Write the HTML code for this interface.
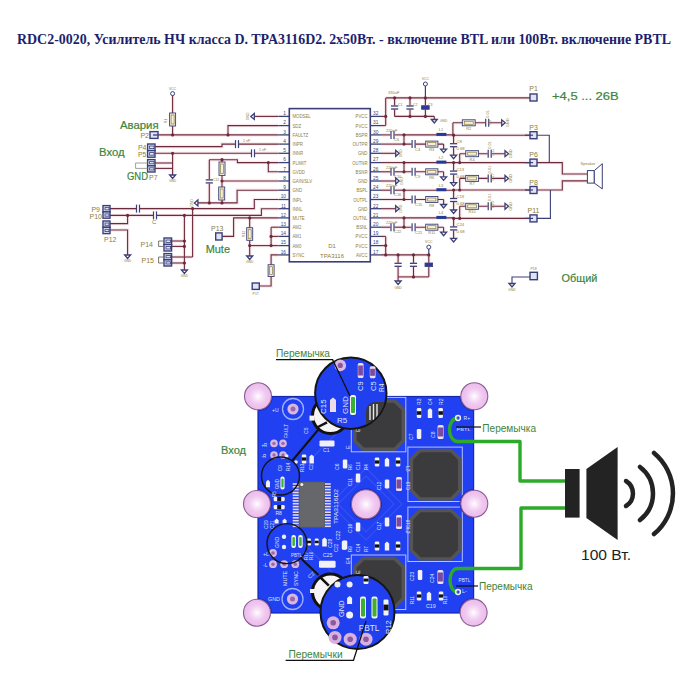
<!DOCTYPE html><html><head><meta charset="utf-8"><style>html,body{margin:0;padding:0;background:#fff;}svg{display:block;}</style></head><body>
<svg width="700" height="700" viewBox="0 0 700 700" font-family="Liberation Sans">
<defs><radialGradient id="hg"><stop offset="0" stop-color="#ffffff"/><stop offset="0.28" stop-color="#f8e2f8"/><stop offset="0.6" stop-color="#f0c8f0"/><stop offset="1" stop-color="#eabcea"/></radialGradient><clipPath id="board"><rect x="258" y="396.5" width="215.6" height="216.5"/></clipPath><clipPath id="mag1"><circle cx="350.8" cy="393.3" r="35"/></clipPath></defs>
<rect width="700" height="700" fill="#fff"/>
<g fill="none" stroke="#f8e9ed" stroke-width="3.5"><line x1="254.3" y1="116.4" x2="278.5" y2="116.4"/><polyline points="228.0,134.9 228.0,125.6 278.5,125.6"/><line x1="158.0" y1="134.9" x2="278.5" y2="134.9"/><line x1="172.6" y1="95.6" x2="172.6" y2="134.9"/><polyline points="155.0,146.6 222.0,146.6 222.0,144.1 278.5,144.1"/><line x1="155.0" y1="153.3" x2="278.5" y2="153.3"/><line x1="172.6" y1="153.3" x2="172.6" y2="175.0"/><line x1="155.0" y1="163.0" x2="172.6" y2="163.0"/><line x1="155.0" y1="168.4" x2="172.6" y2="168.4"/><polyline points="209.3,159.7 237.4,159.7 237.4,162.6 278.5,162.6"/><polyline points="268.3,162.6 268.3,171.8 278.5,171.8"/><line x1="222.0" y1="159.7" x2="222.0" y2="202.9"/><line x1="222.0" y1="181.0" x2="278.5" y2="181.0"/><line x1="209.3" y1="159.7" x2="209.3" y2="202.9"/><polyline points="197.9,202.9 237.1,202.9 237.1,190.2 278.5,190.2"/><polyline points="110.0,208.6 254.3,208.6 254.3,199.5 278.5,199.5"/><polyline points="110.0,215.4 261.4,215.4 261.4,208.7 278.5,208.7"/><polyline points="127.6,215.4 127.6,223.6 110.0,223.6"/><polyline points="110.0,230.0 127.6,230.0 127.6,255.0"/><line x1="192.6" y1="208.6" x2="192.6" y2="257.0"/><line x1="184.4" y1="215.4" x2="184.4" y2="270.0"/><line x1="171.6" y1="241.0" x2="184.4" y2="241.0"/><line x1="171.6" y1="246.4" x2="184.4" y2="246.4"/><line x1="171.6" y1="257.0" x2="192.6" y2="257.0"/><line x1="171.6" y1="263.0" x2="184.4" y2="263.0"/><polyline points="222.1,236.4 233.6,236.4 233.6,217.9 278.5,217.9"/><line x1="249.7" y1="217.9" x2="249.7" y2="256.0"/><line x1="249.7" y1="245.6" x2="278.5" y2="245.6"/><line x1="271.1" y1="227.2" x2="271.1" y2="245.6"/><line x1="271.1" y1="227.2" x2="278.5" y2="227.2"/><line x1="271.1" y1="236.4" x2="278.5" y2="236.4"/><polyline points="278.5,254.9 271.1,254.9 271.1,286.0 259.3,286.0"/><line x1="381.0" y1="116.4" x2="385.7" y2="116.4"/><line x1="381.0" y1="125.6" x2="385.7" y2="125.6"/><line x1="385.7" y1="97.9" x2="385.7" y2="125.6"/><line x1="385.7" y1="97.9" x2="530.0" y2="97.9"/><line x1="394.6" y1="97.9" x2="394.6" y2="116.4"/><line x1="410.0" y1="97.9" x2="410.0" y2="116.4"/><line x1="425.4" y1="97.9" x2="425.4" y2="116.4"/><line x1="394.6" y1="116.4" x2="434.3" y2="116.4"/><line x1="434.3" y1="116.4" x2="434.3" y2="119.5"/><line x1="381.0" y1="134.9" x2="404.0" y2="134.9"/><line x1="381.0" y1="144.1" x2="404.0" y2="144.1"/><line x1="404.0" y1="134.9" x2="404.0" y2="144.1"/><line x1="404.0" y1="144.1" x2="443.6" y2="144.1"/><line x1="443.6" y1="144.1" x2="443.6" y2="149.1"/><polyline points="404.0,134.9 453.6,134.9 453.6,135.2 530.0,135.2"/><line x1="453.6" y1="135.2" x2="453.6" y2="155.2"/><line x1="452.9" y1="122.8" x2="452.9" y2="135.2"/><line x1="452.9" y1="122.8" x2="501.7" y2="122.8"/><line x1="381.0" y1="153.3" x2="395.7" y2="153.3"/><line x1="381.0" y1="162.6" x2="404.0" y2="162.6"/><line x1="381.0" y1="171.8" x2="404.0" y2="171.8"/><line x1="404.0" y1="162.6" x2="404.0" y2="171.8"/><line x1="404.0" y1="171.8" x2="443.6" y2="171.8"/><line x1="443.6" y1="171.8" x2="443.6" y2="176.8"/><polyline points="404.0,162.6 453.6,162.6 453.6,162.6 530.0,162.6"/><line x1="453.6" y1="162.6" x2="453.6" y2="182.6"/><line x1="459.7" y1="153.7" x2="459.7" y2="162.6"/><line x1="459.7" y1="153.7" x2="505.0" y2="153.7"/><line x1="381.0" y1="181.0" x2="395.7" y2="181.0"/><line x1="381.0" y1="190.2" x2="404.0" y2="190.2"/><line x1="381.0" y1="199.5" x2="404.0" y2="199.5"/><line x1="404.0" y1="190.2" x2="404.0" y2="199.5"/><line x1="404.0" y1="199.5" x2="443.6" y2="199.5"/><line x1="443.6" y1="199.5" x2="443.6" y2="204.5"/><polyline points="404.0,190.2 453.6,190.2 453.6,190.0 530.0,190.0"/><line x1="453.6" y1="190.0" x2="453.6" y2="210.0"/><line x1="459.7" y1="178.4" x2="459.7" y2="190.0"/><line x1="459.7" y1="178.4" x2="505.0" y2="178.4"/><line x1="381.0" y1="208.7" x2="395.7" y2="208.7"/><line x1="381.0" y1="217.9" x2="404.0" y2="217.9"/><line x1="381.0" y1="227.2" x2="404.0" y2="227.2"/><line x1="404.0" y1="217.9" x2="404.0" y2="227.2"/><line x1="404.0" y1="227.2" x2="443.6" y2="227.2"/><line x1="443.6" y1="227.2" x2="443.6" y2="232.2"/><polyline points="404.0,217.9 453.6,217.9 453.6,218.4 530.0,218.4"/><line x1="453.6" y1="218.4" x2="453.6" y2="238.4"/><line x1="459.7" y1="206.3" x2="459.7" y2="218.4"/><line x1="459.7" y1="206.3" x2="505.0" y2="206.3"/><line x1="381.0" y1="236.4" x2="385.7" y2="236.4"/><line x1="381.0" y1="245.6" x2="385.7" y2="245.6"/><line x1="385.7" y1="236.4" x2="385.7" y2="254.9"/><line x1="381.0" y1="254.9" x2="428.8" y2="254.9"/><line x1="398.1" y1="254.9" x2="398.1" y2="276.9"/><line x1="413.5" y1="254.9" x2="413.5" y2="276.9"/><line x1="428.8" y1="254.9" x2="428.8" y2="276.9"/><line x1="398.1" y1="276.9" x2="428.8" y2="276.9"/><line x1="398.1" y1="276.9" x2="398.1" y2="281.0"/><polyline points="537.0,162.6 562.3,162.6 562.3,174.0 587.4,174.0"/><polyline points="537.0,190.0 562.3,190.0 562.3,180.9 587.4,180.9"/></g>
<text x="17" y="43.5" font-family="Liberation Serif" font-weight="bold" font-size="14" fill="#1d1f6e" textLength="654" lengthAdjust="spacingAndGlyphs">RDC2-0020, Усилитель НЧ класса D. TPA3116D2. 2x50Вт. - включение BTL или 100Вт. включение PBTL</text>
<rect x="289.3" y="108.6" width="81" height="153.2" fill="#fff" stroke="#3a3f78" stroke-width="1.6"/>
<line x1="278.5" y1="116.4" x2="289.3" y2="116.4" stroke="#3a3f78" stroke-width="1.3"/>
<text x="286.0" y="115.2" font-size="4.8" fill="#3a3f78" text-anchor="end" font-weight="normal" font-family="Liberation Sans">1</text>
<text x="292.5" y="118.4" font-size="5.4" fill="#8c7d3c" text-anchor="start" font-weight="normal" font-family="Liberation Sans" textLength="18.2" lengthAdjust="spacingAndGlyphs">MODSEL</text>
<line x1="278.5" y1="125.6" x2="289.3" y2="125.6" stroke="#3a3f78" stroke-width="1.3"/>
<text x="286.0" y="124.4" font-size="4.8" fill="#3a3f78" text-anchor="end" font-weight="normal" font-family="Liberation Sans">2</text>
<text x="292.5" y="127.6" font-size="5.4" fill="#8c7d3c" text-anchor="start" font-weight="normal" font-family="Liberation Sans" textLength="8.6" lengthAdjust="spacingAndGlyphs">SDZ</text>
<line x1="278.5" y1="134.9" x2="289.3" y2="134.9" stroke="#3a3f78" stroke-width="1.3"/>
<text x="286.0" y="133.7" font-size="4.8" fill="#3a3f78" text-anchor="end" font-weight="normal" font-family="Liberation Sans">3</text>
<text x="292.5" y="136.9" font-size="5.4" fill="#8c7d3c" text-anchor="start" font-weight="normal" font-family="Liberation Sans" textLength="15.7" lengthAdjust="spacingAndGlyphs">FAULTZ</text>
<line x1="278.5" y1="144.1" x2="289.3" y2="144.1" stroke="#3a3f78" stroke-width="1.3"/>
<text x="286.0" y="142.9" font-size="4.8" fill="#3a3f78" text-anchor="end" font-weight="normal" font-family="Liberation Sans">4</text>
<text x="292.5" y="146.1" font-size="5.4" fill="#8c7d3c" text-anchor="start" font-weight="normal" font-family="Liberation Sans" textLength="10.3" lengthAdjust="spacingAndGlyphs">INPR</text>
<line x1="278.5" y1="153.3" x2="289.3" y2="153.3" stroke="#3a3f78" stroke-width="1.3"/>
<text x="286.0" y="152.1" font-size="4.8" fill="#3a3f78" text-anchor="end" font-weight="normal" font-family="Liberation Sans">5</text>
<text x="292.5" y="155.3" font-size="5.4" fill="#8c7d3c" text-anchor="start" font-weight="normal" font-family="Liberation Sans" textLength="10.5" lengthAdjust="spacingAndGlyphs">INNR</text>
<line x1="278.5" y1="162.6" x2="289.3" y2="162.6" stroke="#3a3f78" stroke-width="1.3"/>
<text x="286.0" y="161.4" font-size="4.8" fill="#3a3f78" text-anchor="end" font-weight="normal" font-family="Liberation Sans">6</text>
<text x="292.5" y="164.6" font-size="5.4" fill="#8c7d3c" text-anchor="start" font-weight="normal" font-family="Liberation Sans" textLength="13.9" lengthAdjust="spacingAndGlyphs">PLIMIT</text>
<line x1="278.5" y1="171.8" x2="289.3" y2="171.8" stroke="#3a3f78" stroke-width="1.3"/>
<text x="286.0" y="170.6" font-size="4.8" fill="#3a3f78" text-anchor="end" font-weight="normal" font-family="Liberation Sans">7</text>
<text x="292.5" y="173.8" font-size="5.4" fill="#8c7d3c" text-anchor="start" font-weight="normal" font-family="Liberation Sans" textLength="12.4" lengthAdjust="spacingAndGlyphs">GVDD</text>
<line x1="278.5" y1="181.0" x2="289.3" y2="181.0" stroke="#3a3f78" stroke-width="1.3"/>
<text x="286.0" y="179.8" font-size="4.8" fill="#3a3f78" text-anchor="end" font-weight="normal" font-family="Liberation Sans">8</text>
<text x="292.5" y="183.0" font-size="5.4" fill="#8c7d3c" text-anchor="start" font-weight="normal" font-family="Liberation Sans" textLength="19.5" lengthAdjust="spacingAndGlyphs">GAIN/SLV</text>
<line x1="278.5" y1="190.2" x2="289.3" y2="190.2" stroke="#3a3f78" stroke-width="1.3"/>
<text x="286.0" y="189.0" font-size="4.8" fill="#3a3f78" text-anchor="end" font-weight="normal" font-family="Liberation Sans">9</text>
<text x="292.5" y="192.2" font-size="5.4" fill="#8c7d3c" text-anchor="start" font-weight="normal" font-family="Liberation Sans" textLength="9.6" lengthAdjust="spacingAndGlyphs">GND</text>
<line x1="278.5" y1="199.5" x2="289.3" y2="199.5" stroke="#3a3f78" stroke-width="1.3"/>
<text x="286.0" y="198.3" font-size="4.8" fill="#3a3f78" text-anchor="end" font-weight="normal" font-family="Liberation Sans">10</text>
<text x="292.5" y="201.5" font-size="5.4" fill="#8c7d3c" text-anchor="start" font-weight="normal" font-family="Liberation Sans" textLength="9.6" lengthAdjust="spacingAndGlyphs">INPL</text>
<line x1="278.5" y1="208.7" x2="289.3" y2="208.7" stroke="#3a3f78" stroke-width="1.3"/>
<text x="286.0" y="207.5" font-size="4.8" fill="#3a3f78" text-anchor="end" font-weight="normal" font-family="Liberation Sans">11</text>
<text x="292.5" y="210.7" font-size="5.4" fill="#8c7d3c" text-anchor="start" font-weight="normal" font-family="Liberation Sans" textLength="9.8" lengthAdjust="spacingAndGlyphs">INNL</text>
<line x1="278.5" y1="217.9" x2="289.3" y2="217.9" stroke="#3a3f78" stroke-width="1.3"/>
<text x="286.0" y="216.7" font-size="4.8" fill="#3a3f78" text-anchor="end" font-weight="normal" font-family="Liberation Sans">12</text>
<text x="292.5" y="219.9" font-size="5.4" fill="#8c7d3c" text-anchor="start" font-weight="normal" font-family="Liberation Sans" textLength="12.2" lengthAdjust="spacingAndGlyphs">MUTE</text>
<line x1="278.5" y1="227.2" x2="289.3" y2="227.2" stroke="#3a3f78" stroke-width="1.3"/>
<text x="286.0" y="226.0" font-size="4.8" fill="#3a3f78" text-anchor="end" font-weight="normal" font-family="Liberation Sans">13</text>
<text x="292.5" y="229.2" font-size="5.4" fill="#8c7d3c" text-anchor="start" font-weight="normal" font-family="Liberation Sans" textLength="8.8" lengthAdjust="spacingAndGlyphs">AM2</text>
<line x1="278.5" y1="236.4" x2="289.3" y2="236.4" stroke="#3a3f78" stroke-width="1.3"/>
<text x="286.0" y="235.2" font-size="4.8" fill="#3a3f78" text-anchor="end" font-weight="normal" font-family="Liberation Sans">14</text>
<text x="292.5" y="238.4" font-size="5.4" fill="#8c7d3c" text-anchor="start" font-weight="normal" font-family="Liberation Sans" textLength="8.8" lengthAdjust="spacingAndGlyphs">AM1</text>
<line x1="278.5" y1="245.6" x2="289.3" y2="245.6" stroke="#3a3f78" stroke-width="1.3"/>
<text x="286.0" y="244.4" font-size="4.8" fill="#3a3f78" text-anchor="end" font-weight="normal" font-family="Liberation Sans">15</text>
<text x="292.5" y="247.6" font-size="5.4" fill="#8c7d3c" text-anchor="start" font-weight="normal" font-family="Liberation Sans" textLength="8.8" lengthAdjust="spacingAndGlyphs">AM0</text>
<line x1="278.5" y1="254.9" x2="289.3" y2="254.9" stroke="#3a3f78" stroke-width="1.3"/>
<text x="286.0" y="253.7" font-size="4.8" fill="#3a3f78" text-anchor="end" font-weight="normal" font-family="Liberation Sans">16</text>
<text x="292.5" y="256.9" font-size="5.4" fill="#8c7d3c" text-anchor="start" font-weight="normal" font-family="Liberation Sans" textLength="11.9" lengthAdjust="spacingAndGlyphs">SYNC</text>
<line x1="370.3" y1="116.4" x2="381.0" y2="116.4" stroke="#3a3f78" stroke-width="1.3"/>
<text x="373.0" y="115.2" font-size="4.8" fill="#3a3f78" text-anchor="start" font-weight="normal" font-family="Liberation Sans">32</text>
<text x="367.5" y="118.4" font-size="5.4" fill="#8c7d3c" text-anchor="end" font-weight="normal" font-family="Liberation Sans" textLength="11.9" lengthAdjust="spacingAndGlyphs">PVCC</text>
<line x1="370.3" y1="125.6" x2="381.0" y2="125.6" stroke="#3a3f78" stroke-width="1.3"/>
<text x="373.0" y="124.4" font-size="4.8" fill="#3a3f78" text-anchor="start" font-weight="normal" font-family="Liberation Sans">31</text>
<text x="367.5" y="127.6" font-size="5.4" fill="#8c7d3c" text-anchor="end" font-weight="normal" font-family="Liberation Sans" textLength="11.9" lengthAdjust="spacingAndGlyphs">PVCC</text>
<line x1="370.3" y1="134.9" x2="381.0" y2="134.9" stroke="#3a3f78" stroke-width="1.3"/>
<text x="373.0" y="133.7" font-size="4.8" fill="#3a3f78" text-anchor="start" font-weight="normal" font-family="Liberation Sans">30</text>
<text x="367.5" y="136.9" font-size="5.4" fill="#8c7d3c" text-anchor="end" font-weight="normal" font-family="Liberation Sans" textLength="11.7" lengthAdjust="spacingAndGlyphs">BSPR</text>
<line x1="370.3" y1="144.1" x2="381.0" y2="144.1" stroke="#3a3f78" stroke-width="1.3"/>
<text x="373.0" y="142.9" font-size="4.8" fill="#3a3f78" text-anchor="start" font-weight="normal" font-family="Liberation Sans">29</text>
<text x="367.5" y="146.1" font-size="5.4" fill="#8c7d3c" text-anchor="end" font-weight="normal" font-family="Liberation Sans" textLength="15.0" lengthAdjust="spacingAndGlyphs">OUTPR</text>
<line x1="370.3" y1="153.3" x2="381.0" y2="153.3" stroke="#3a3f78" stroke-width="1.3"/>
<text x="373.0" y="152.1" font-size="4.8" fill="#3a3f78" text-anchor="start" font-weight="normal" font-family="Liberation Sans">28</text>
<text x="367.5" y="155.3" font-size="5.4" fill="#8c7d3c" text-anchor="end" font-weight="normal" font-family="Liberation Sans" textLength="9.6" lengthAdjust="spacingAndGlyphs">GND</text>
<line x1="370.3" y1="162.6" x2="381.0" y2="162.6" stroke="#3a3f78" stroke-width="1.3"/>
<text x="373.0" y="161.4" font-size="4.8" fill="#3a3f78" text-anchor="start" font-weight="normal" font-family="Liberation Sans">27</text>
<text x="367.5" y="164.6" font-size="5.4" fill="#8c7d3c" text-anchor="end" font-weight="normal" font-family="Liberation Sans" textLength="15.3" lengthAdjust="spacingAndGlyphs">OUTNR</text>
<line x1="370.3" y1="171.8" x2="381.0" y2="171.8" stroke="#3a3f78" stroke-width="1.3"/>
<text x="373.0" y="170.6" font-size="4.8" fill="#3a3f78" text-anchor="start" font-weight="normal" font-family="Liberation Sans">26</text>
<text x="367.5" y="173.8" font-size="5.4" fill="#8c7d3c" text-anchor="end" font-weight="normal" font-family="Liberation Sans" textLength="11.9" lengthAdjust="spacingAndGlyphs">BSNR</text>
<line x1="370.3" y1="181.0" x2="381.0" y2="181.0" stroke="#3a3f78" stroke-width="1.3"/>
<text x="373.0" y="179.8" font-size="4.8" fill="#3a3f78" text-anchor="start" font-weight="normal" font-family="Liberation Sans">25</text>
<text x="367.5" y="183.0" font-size="5.4" fill="#8c7d3c" text-anchor="end" font-weight="normal" font-family="Liberation Sans" textLength="9.6" lengthAdjust="spacingAndGlyphs">GND</text>
<line x1="370.3" y1="190.2" x2="381.0" y2="190.2" stroke="#3a3f78" stroke-width="1.3"/>
<text x="373.0" y="189.0" font-size="4.8" fill="#3a3f78" text-anchor="start" font-weight="normal" font-family="Liberation Sans">24</text>
<text x="367.5" y="192.2" font-size="5.4" fill="#8c7d3c" text-anchor="end" font-weight="normal" font-family="Liberation Sans" textLength="11.0" lengthAdjust="spacingAndGlyphs">BSPL</text>
<line x1="370.3" y1="199.5" x2="381.0" y2="199.5" stroke="#3a3f78" stroke-width="1.3"/>
<text x="373.0" y="198.3" font-size="4.8" fill="#3a3f78" text-anchor="start" font-weight="normal" font-family="Liberation Sans">23</text>
<text x="367.5" y="201.5" font-size="5.4" fill="#8c7d3c" text-anchor="end" font-weight="normal" font-family="Liberation Sans" textLength="14.3" lengthAdjust="spacingAndGlyphs">OUTPL</text>
<line x1="370.3" y1="208.7" x2="381.0" y2="208.7" stroke="#3a3f78" stroke-width="1.3"/>
<text x="373.0" y="207.5" font-size="4.8" fill="#3a3f78" text-anchor="start" font-weight="normal" font-family="Liberation Sans">22</text>
<text x="367.5" y="210.7" font-size="5.4" fill="#8c7d3c" text-anchor="end" font-weight="normal" font-family="Liberation Sans" textLength="9.6" lengthAdjust="spacingAndGlyphs">GND</text>
<line x1="370.3" y1="217.9" x2="381.0" y2="217.9" stroke="#3a3f78" stroke-width="1.3"/>
<text x="373.0" y="216.7" font-size="4.8" fill="#3a3f78" text-anchor="start" font-weight="normal" font-family="Liberation Sans">21</text>
<text x="367.5" y="219.9" font-size="5.4" fill="#8c7d3c" text-anchor="end" font-weight="normal" font-family="Liberation Sans" textLength="14.6" lengthAdjust="spacingAndGlyphs">OUTNL</text>
<line x1="370.3" y1="227.2" x2="381.0" y2="227.2" stroke="#3a3f78" stroke-width="1.3"/>
<text x="373.0" y="226.0" font-size="4.8" fill="#3a3f78" text-anchor="start" font-weight="normal" font-family="Liberation Sans">20</text>
<text x="367.5" y="229.2" font-size="5.4" fill="#8c7d3c" text-anchor="end" font-weight="normal" font-family="Liberation Sans" textLength="11.2" lengthAdjust="spacingAndGlyphs">BSNL</text>
<line x1="370.3" y1="236.4" x2="381.0" y2="236.4" stroke="#3a3f78" stroke-width="1.3"/>
<text x="373.0" y="235.2" font-size="4.8" fill="#3a3f78" text-anchor="start" font-weight="normal" font-family="Liberation Sans">19</text>
<text x="367.5" y="238.4" font-size="5.4" fill="#8c7d3c" text-anchor="end" font-weight="normal" font-family="Liberation Sans" textLength="11.9" lengthAdjust="spacingAndGlyphs">PVCC</text>
<line x1="370.3" y1="245.6" x2="381.0" y2="245.6" stroke="#3a3f78" stroke-width="1.3"/>
<text x="373.0" y="244.4" font-size="4.8" fill="#3a3f78" text-anchor="start" font-weight="normal" font-family="Liberation Sans">18</text>
<text x="367.5" y="247.6" font-size="5.4" fill="#8c7d3c" text-anchor="end" font-weight="normal" font-family="Liberation Sans" textLength="11.9" lengthAdjust="spacingAndGlyphs">PVCC</text>
<line x1="370.3" y1="254.9" x2="381.0" y2="254.9" stroke="#3a3f78" stroke-width="1.3"/>
<text x="373.0" y="253.7" font-size="4.8" fill="#3a3f78" text-anchor="start" font-weight="normal" font-family="Liberation Sans">17</text>
<text x="367.5" y="256.9" font-size="5.4" fill="#8c7d3c" text-anchor="end" font-weight="normal" font-family="Liberation Sans" textLength="11.6" lengthAdjust="spacingAndGlyphs">AVCC</text>
<text x="332.0" y="247.5" font-size="6" fill="#8c7d3c" text-anchor="middle" font-weight="normal" font-family="Liberation Sans">D1</text>
<text x="332.0" y="257.5" font-size="6" fill="#8c7d3c" text-anchor="middle" font-weight="normal" font-family="Liberation Sans" textLength="24" lengthAdjust="spacingAndGlyphs">TPA3116</text>
<line x1="254.3" y1="116.4" x2="278.5" y2="116.4" stroke="#6c2a3a" stroke-width="1.1"/>
<polygon points="254.3,113.4 254.3,119.4 250.8,116.4" fill="none" stroke="#3a3f78" stroke-width="1.3"/>
<text x="249.0" y="116.4" font-size="3.5" fill="#8c7d3c" text-anchor="middle" font-weight="normal" font-family="Liberation Sans" transform="rotate(-90 249.0 116.4)">GND</text>
<polyline points="228.0,134.9 228.0,125.6 278.5,125.6" fill="none" stroke="#6c2a3a" stroke-width="1.1"/>
<line x1="158.0" y1="134.9" x2="278.5" y2="134.9" stroke="#6c2a3a" stroke-width="1.1"/>
<circle cx="172.6" cy="134.9" r="1.6" fill="#6c2a3a"/>
<circle cx="228.0" cy="134.9" r="1.6" fill="#6c2a3a"/>
<circle cx="172.6" cy="93.6" r="2" fill="#fff" stroke="#3a3f78" stroke-width="1"/>
<text x="172.6" y="89.6" font-size="3.5" fill="#8c7d3c" text-anchor="middle" font-weight="normal" font-family="Liberation Sans">VCC</text>
<line x1="172.6" y1="95.6" x2="172.6" y2="134.9" stroke="#6c2a3a" stroke-width="1.1"/>
<rect x="169.6" y="113.0" width="6" height="13.0" fill="#f4f0e0" stroke="#3a3f78" stroke-width="0.9"/>
<rect x="171.1" y="115.0" width="3" height="9.0" fill="none" stroke="#8c7d3c" stroke-width="0.7"/>
<text x="167.0" y="121.0" font-size="3.5" fill="#8c7d3c" text-anchor="middle" font-weight="normal" font-family="Liberation Sans" transform="rotate(-90 167.0 121.0)">R1</text>
<rect x="150.0" y="131.6" width="8.0" height="6.8" fill="#dfe5f7" stroke="#3a3f78" stroke-width="1.4"/>
<line x1="153.0" y1="135.0" x2="158.0" y2="135.0" stroke="#3a3f78" stroke-width="1.3"/>
<text x="149.0" y="138.0" font-size="7" fill="#8c7d3c" text-anchor="end" font-weight="normal" font-family="Liberation Sans">P2</text>
<text x="120.0" y="128.6" font-size="10.8" fill="#3d853d" text-anchor="start" font-weight="normal" font-family="Liberation Sans" textLength="38.6" lengthAdjust="spacingAndGlyphs" stroke="#3d853d" stroke-width="0.2">Авария</text>
<polyline points="155.0,146.6 222.0,146.6 222.0,144.1 278.5,144.1" fill="none" stroke="#6c2a3a" stroke-width="1.1"/>
<rect x="235.0" y="140.1" width="4" height="8" fill="#fff"/>
<line x1="235.5" y1="140.1" x2="235.5" y2="148.1" stroke="#3a3f78" stroke-width="1.2"/>
<line x1="238.5" y1="140.1" x2="238.5" y2="148.1" stroke="#3a3f78" stroke-width="1.2"/>
<text x="243.0" y="141.6" font-size="3.6" fill="#8c7d3c" text-anchor="start" font-weight="normal" font-family="Liberation Sans">1 nF</text>
<line x1="155.0" y1="153.3" x2="278.5" y2="153.3" stroke="#6c2a3a" stroke-width="1.1"/>
<rect x="251.0" y="149.3" width="4" height="8" fill="#fff"/>
<line x1="251.5" y1="149.3" x2="251.5" y2="157.3" stroke="#3a3f78" stroke-width="1.2"/>
<line x1="254.5" y1="149.3" x2="254.5" y2="157.3" stroke="#3a3f78" stroke-width="1.2"/>
<text x="259.0" y="150.8" font-size="3.6" fill="#8c7d3c" text-anchor="start" font-weight="normal" font-family="Liberation Sans">1 nF</text>
<rect x="147.6" y="144.0" width="7.4" height="6.6" fill="#dfe5f7" stroke="#3a3f78" stroke-width="1.4"/>
<rect x="149.6" y="146.0" width="4.4" height="2.6" fill="none" stroke="#3a3f78" stroke-width="0.8"/>
<rect x="147.6" y="150.6" width="7.4" height="6.6" fill="#dfe5f7" stroke="#3a3f78" stroke-width="1.4"/>
<rect x="149.6" y="152.6" width="4.4" height="2.6" fill="none" stroke="#3a3f78" stroke-width="0.8"/>
<text x="146.5" y="150.0" font-size="7" fill="#8c7d3c" text-anchor="end" font-weight="normal" font-family="Liberation Sans">P4</text>
<text x="146.5" y="157.0" font-size="7" fill="#8c7d3c" text-anchor="end" font-weight="normal" font-family="Liberation Sans">P5</text>
<text x="99.0" y="155.6" font-size="10.6" fill="#3d853d" text-anchor="start" font-weight="normal" font-family="Liberation Sans" textLength="25.5" lengthAdjust="spacingAndGlyphs" stroke="#3d853d" stroke-width="0.2">Вход</text>
<circle cx="172.6" cy="153.3" r="1.6" fill="#6c2a3a"/>
<line x1="172.6" y1="153.3" x2="172.6" y2="175.0" stroke="#6c2a3a" stroke-width="1.1"/>
<polygon points="169.6,175.0 175.6,175.0 172.6,178.5" fill="none" stroke="#3a3f78" stroke-width="1.3"/>
<text x="172.6" y="182.0" font-size="3.3" fill="#8c7d3c" text-anchor="middle" font-weight="normal" font-family="Liberation Sans">GND</text>
<line x1="155.0" y1="163.0" x2="172.6" y2="163.0" stroke="#6c2a3a" stroke-width="1.1"/>
<line x1="155.0" y1="168.4" x2="172.6" y2="168.4" stroke="#6c2a3a" stroke-width="1.1"/>
<rect x="147.6" y="159.6" width="7.4" height="6.2" fill="#dfe5f7" stroke="#3a3f78" stroke-width="1.4"/>
<rect x="149.6" y="161.6" width="4.4" height="2.2" fill="none" stroke="#3a3f78" stroke-width="0.8"/>
<rect x="147.6" y="165.8" width="7.4" height="6.2" fill="#dfe5f7" stroke="#3a3f78" stroke-width="1.4"/>
<rect x="149.6" y="167.8" width="4.4" height="2.2" fill="none" stroke="#3a3f78" stroke-width="0.8"/>
<polyline points="147.6,163.0 135.6,163.0 135.6,168.4 147.6,168.4" fill="none" stroke="#888" stroke-width="0.8"/>
<text x="127.0" y="180.0" font-size="11" fill="#3d853d" text-anchor="start" font-weight="normal" font-family="Liberation Sans" textLength="21" lengthAdjust="spacingAndGlyphs" stroke="#3d853d" stroke-width="0.2">GND</text>
<text x="149.0" y="180.0" font-size="7" fill="#8c7d3c" text-anchor="start" font-weight="normal" font-family="Liberation Sans">P7</text>
<polyline points="209.3,159.7 237.4,159.7 237.4,162.6 278.5,162.6" fill="none" stroke="#6c2a3a" stroke-width="1.1"/>
<circle cx="268.3" cy="162.6" r="1.6" fill="#6c2a3a"/>
<polyline points="268.3,162.6 268.3,171.8 278.5,171.8" fill="none" stroke="#6c2a3a" stroke-width="1.1"/>
<circle cx="222.0" cy="159.7" r="1.6" fill="#6c2a3a"/>
<line x1="222.0" y1="159.7" x2="222.0" y2="202.9" stroke="#6c2a3a" stroke-width="1.1"/>
<rect x="219.0" y="162.0" width="6" height="13.4" fill="#f4f0e0" stroke="#3a3f78" stroke-width="0.9"/>
<rect x="220.5" y="164.0" width="3" height="9.4" fill="none" stroke="#8c7d3c" stroke-width="0.7"/>
<circle cx="222.0" cy="181.0" r="1.6" fill="#6c2a3a"/>
<rect x="218.7" y="187.0" width="6" height="13.0" fill="#f4f0e0" stroke="#3a3f78" stroke-width="0.9"/>
<rect x="220.2" y="189.0" width="3" height="9.0" fill="none" stroke="#8c7d3c" stroke-width="0.7"/>
<line x1="222.0" y1="181.0" x2="278.5" y2="181.0" stroke="#6c2a3a" stroke-width="1.1"/>
<line x1="209.3" y1="159.7" x2="209.3" y2="202.9" stroke="#6c2a3a" stroke-width="1.1"/>
<rect x="205.3" y="179.4" width="8" height="4" fill="#fff"/>
<line x1="205.7" y1="179.9" x2="212.9" y2="179.9" stroke="#3a3f78" stroke-width="1.3"/>
<line x1="205.7" y1="182.9" x2="212.9" y2="182.9" stroke="#3a3f78" stroke-width="1.3"/>
<text x="213.0" y="181.0" font-size="3.6" fill="#8c7d3c" text-anchor="start" font-weight="normal" font-family="Liberation Sans">C11</text>
<polygon points="197.9,199.9 197.9,205.9 194.4,202.9" fill="none" stroke="#3a3f78" stroke-width="1.3"/>
<text x="193.0" y="202.9" font-size="3.5" fill="#8c7d3c" text-anchor="middle" font-weight="normal" font-family="Liberation Sans" transform="rotate(-90 193.0 202.9)">GND</text>
<polyline points="197.9,202.9 237.1,202.9 237.1,190.2 278.5,190.2" fill="none" stroke="#6c2a3a" stroke-width="1.1"/>
<circle cx="209.3" cy="202.9" r="1.6" fill="#6c2a3a"/>
<circle cx="222.0" cy="202.9" r="1.6" fill="#6c2a3a"/>
<polyline points="110.0,208.6 254.3,208.6 254.3,199.5 278.5,199.5" fill="none" stroke="#6c2a3a" stroke-width="1.1"/>
<rect x="136.0" y="204.6" width="4" height="8" fill="#fff"/>
<line x1="136.5" y1="204.6" x2="136.5" y2="212.6" stroke="#3a3f78" stroke-width="1.2"/>
<line x1="139.5" y1="204.6" x2="139.5" y2="212.6" stroke="#3a3f78" stroke-width="1.2"/>
<polyline points="110.0,215.4 261.4,215.4 261.4,208.7 278.5,208.7" fill="none" stroke="#6c2a3a" stroke-width="1.1"/>
<rect x="153.0" y="211.4" width="4" height="8" fill="#fff"/>
<line x1="153.5" y1="211.4" x2="153.5" y2="219.4" stroke="#3a3f78" stroke-width="1.2"/>
<line x1="156.5" y1="211.4" x2="156.5" y2="219.4" stroke="#3a3f78" stroke-width="1.2"/>
<text x="152.0" y="224.0" font-size="6" fill="#8c7d3c" text-anchor="start" font-weight="normal" font-family="Liberation Sans">C</text>
<rect x="103.0" y="205.6" width="7.0" height="6.3" fill="#dfe5f7" stroke="#3a3f78" stroke-width="1.4"/>
<rect x="105.0" y="207.6" width="4.0" height="2.3" fill="none" stroke="#3a3f78" stroke-width="0.8"/>
<rect x="103.0" y="211.9" width="7.0" height="6.3" fill="#dfe5f7" stroke="#3a3f78" stroke-width="1.4"/>
<rect x="105.0" y="213.9" width="4.0" height="2.3" fill="none" stroke="#3a3f78" stroke-width="0.8"/>
<text x="100.0" y="212.0" font-size="7" fill="#8c7d3c" text-anchor="end" font-weight="normal" font-family="Liberation Sans">P9</text>
<text x="102.0" y="219.0" font-size="7" fill="#8c7d3c" text-anchor="end" font-weight="normal" font-family="Liberation Sans">P10</text>
<circle cx="127.6" cy="215.4" r="1.6" fill="#6c2a3a"/>
<polyline points="127.6,215.4 127.6,223.6 110.0,223.6" fill="none" stroke="#6c2a3a" stroke-width="1.1"/>
<polyline points="110.0,230.0 127.6,230.0 127.6,255.0" fill="none" stroke="#6c2a3a" stroke-width="1.1"/>
<polygon points="124.6,255.0 130.6,255.0 127.6,258.5" fill="none" stroke="#3a3f78" stroke-width="1.3"/>
<text x="127.6" y="262.0" font-size="3.3" fill="#8c7d3c" text-anchor="middle" font-weight="normal" font-family="Liberation Sans">GND</text>
<rect x="103.0" y="221.0" width="7.0" height="6.3" fill="#dfe5f7" stroke="#3a3f78" stroke-width="1.4"/>
<rect x="105.0" y="223.0" width="4.0" height="2.3" fill="none" stroke="#3a3f78" stroke-width="0.8"/>
<rect x="103.0" y="227.3" width="7.0" height="6.3" fill="#dfe5f7" stroke="#3a3f78" stroke-width="1.4"/>
<rect x="105.0" y="229.3" width="4.0" height="2.3" fill="none" stroke="#3a3f78" stroke-width="0.8"/>
<text x="104.0" y="242.0" font-size="7" fill="#8c7d3c" text-anchor="start" font-weight="normal" font-family="Liberation Sans">P12</text>
<circle cx="192.6" cy="208.6" r="1.6" fill="#6c2a3a"/>
<line x1="192.6" y1="208.6" x2="192.6" y2="257.0" stroke="#6c2a3a" stroke-width="1.1"/>
<circle cx="184.4" cy="215.4" r="1.6" fill="#6c2a3a"/>
<line x1="184.4" y1="215.4" x2="184.4" y2="270.0" stroke="#6c2a3a" stroke-width="1.1"/>
<polygon points="181.4,270.0 187.4,270.0 184.4,273.5" fill="none" stroke="#3a3f78" stroke-width="1.3"/>
<text x="184.4" y="277.0" font-size="3.3" fill="#8c7d3c" text-anchor="middle" font-weight="normal" font-family="Liberation Sans">GND</text>
<line x1="171.6" y1="241.0" x2="184.4" y2="241.0" stroke="#6c2a3a" stroke-width="1.1"/>
<line x1="171.6" y1="246.4" x2="184.4" y2="246.4" stroke="#6c2a3a" stroke-width="1.1"/>
<line x1="171.6" y1="257.0" x2="192.6" y2="257.0" stroke="#6c2a3a" stroke-width="1.1"/>
<line x1="171.6" y1="263.0" x2="184.4" y2="263.0" stroke="#6c2a3a" stroke-width="1.1"/>
<circle cx="184.4" cy="241.0" r="1.6" fill="#6c2a3a"/>
<circle cx="184.4" cy="246.4" r="1.6" fill="#6c2a3a"/>
<circle cx="184.4" cy="263.0" r="1.6" fill="#6c2a3a"/>
<rect x="164.0" y="238.0" width="7.6" height="6.5" fill="#dfe5f7" stroke="#3a3f78" stroke-width="1.4"/>
<rect x="166.0" y="240.0" width="4.6" height="2.5" fill="none" stroke="#3a3f78" stroke-width="0.8"/>
<rect x="164.0" y="244.5" width="7.6" height="6.5" fill="#dfe5f7" stroke="#3a3f78" stroke-width="1.4"/>
<rect x="166.0" y="246.5" width="4.6" height="2.5" fill="none" stroke="#3a3f78" stroke-width="0.8"/>
<rect x="164.0" y="253.6" width="7.6" height="6.2" fill="#dfe5f7" stroke="#3a3f78" stroke-width="1.4"/>
<rect x="166.0" y="255.6" width="4.6" height="2.2" fill="none" stroke="#3a3f78" stroke-width="0.8"/>
<rect x="164.0" y="259.8" width="7.6" height="6.2" fill="#dfe5f7" stroke="#3a3f78" stroke-width="1.4"/>
<rect x="166.0" y="261.8" width="4.6" height="2.2" fill="none" stroke="#3a3f78" stroke-width="0.8"/>
<polyline points="164.0,241.0 158.6,241.0 158.6,246.4 164.0,246.4" fill="none" stroke="#666" stroke-width="0.9"/>
<polyline points="164.0,257.0 158.6,257.0 158.6,263.0 164.0,263.0" fill="none" stroke="#666" stroke-width="0.9"/>
<text x="153.0" y="247.0" font-size="7" fill="#8c7d3c" text-anchor="end" font-weight="normal" font-family="Liberation Sans">P14</text>
<text x="154.0" y="262.5" font-size="7" fill="#8c7d3c" text-anchor="end" font-weight="normal" font-family="Liberation Sans">P15</text>
<polyline points="222.1,236.4 233.6,236.4 233.6,217.9 278.5,217.9" fill="none" stroke="#6c2a3a" stroke-width="1.1"/>
<rect x="215.7" y="232.9" width="6.4" height="7.1" fill="#dfe5f7" stroke="#3a3f78" stroke-width="1.4"/>
<text x="211.0" y="231.0" font-size="7" fill="#8c7d3c" text-anchor="start" font-weight="normal" font-family="Liberation Sans">P13</text>
<text x="205.7" y="252.9" font-size="11" fill="#3d853d" text-anchor="start" font-weight="normal" font-family="Liberation Sans" textLength="24.3" lengthAdjust="spacingAndGlyphs" stroke="#3d853d" stroke-width="0.2">Mute</text>
<circle cx="249.7" cy="217.9" r="1.6" fill="#6c2a3a"/>
<line x1="249.7" y1="217.9" x2="249.7" y2="256.0" stroke="#6c2a3a" stroke-width="1.1"/>
<rect x="246.7" y="227.7" width="6" height="12.6" fill="#f4f0e0" stroke="#3a3f78" stroke-width="0.9"/>
<rect x="248.2" y="229.7" width="3" height="8.6" fill="none" stroke="#8c7d3c" stroke-width="0.7"/>
<polygon points="246.7,256.0 252.7,256.0 249.7,259.5" fill="none" stroke="#3a3f78" stroke-width="1.3"/>
<text x="249.7" y="263.0" font-size="3.3" fill="#8c7d3c" text-anchor="middle" font-weight="normal" font-family="Liberation Sans">GND</text>
<text x="245.0" y="234.0" font-size="3.5" fill="#8c7d3c" text-anchor="middle" font-weight="normal" font-family="Liberation Sans" transform="rotate(-90 245.0 234.0)">R12</text>
<circle cx="249.7" cy="245.6" r="1.6" fill="#6c2a3a"/>
<line x1="249.7" y1="245.6" x2="278.5" y2="245.6" stroke="#6c2a3a" stroke-width="1.1"/>
<line x1="271.1" y1="227.2" x2="271.1" y2="245.6" stroke="#6c2a3a" stroke-width="1.1"/>
<line x1="271.1" y1="227.2" x2="278.5" y2="227.2" stroke="#6c2a3a" stroke-width="1.1"/>
<line x1="271.1" y1="236.4" x2="278.5" y2="236.4" stroke="#6c2a3a" stroke-width="1.1"/>
<circle cx="271.1" cy="236.4" r="1.6" fill="#6c2a3a"/>
<circle cx="271.1" cy="245.6" r="1.6" fill="#6c2a3a"/>
<polyline points="278.5,254.9 271.1,254.9 271.1,286.0 259.3,286.0" fill="none" stroke="#6c2a3a" stroke-width="1.1"/>
<rect x="268.1" y="264.7" width="6" height="11.8" fill="#f4f0e0" stroke="#3a3f78" stroke-width="0.9"/>
<rect x="269.6" y="266.7" width="3" height="7.8" fill="none" stroke="#8c7d3c" stroke-width="0.7"/>
<rect x="252.2" y="283.0" width="7.1" height="6.4" fill="#dfe5f7" stroke="#3a3f78" stroke-width="1.4"/>
<text x="255.7" y="295.0" font-size="3.5" fill="#8c7d3c" text-anchor="middle" font-weight="normal" font-family="Liberation Sans">P17</text>
<line x1="381.0" y1="116.4" x2="385.7" y2="116.4" stroke="#6c2a3a" stroke-width="1.1"/>
<line x1="381.0" y1="125.6" x2="385.7" y2="125.6" stroke="#6c2a3a" stroke-width="1.1"/>
<line x1="385.7" y1="97.9" x2="385.7" y2="125.6" stroke="#6c2a3a" stroke-width="1.1"/>
<circle cx="385.7" cy="116.4" r="1.6" fill="#6c2a3a"/>
<line x1="385.7" y1="97.9" x2="530.0" y2="97.9" stroke="#6c2a3a" stroke-width="1.1"/>
<text x="388.0" y="94.0" font-size="4" fill="#8c7d3c" text-anchor="start" font-weight="normal" font-family="Liberation Sans">330uF</text>
<circle cx="394.6" cy="97.9" r="1.6" fill="#6c2a3a"/>
<line x1="394.6" y1="97.9" x2="394.6" y2="116.4" stroke="#6c2a3a" stroke-width="1.1"/>
<rect x="390.6" y="105.5" width="8" height="4" fill="#fff"/>
<line x1="391.0" y1="106.0" x2="398.2" y2="106.0" stroke="#3a3f78" stroke-width="1.3"/>
<line x1="391.0" y1="109.0" x2="398.2" y2="109.0" stroke="#3a3f78" stroke-width="1.3"/>
<circle cx="410.0" cy="97.9" r="1.6" fill="#6c2a3a"/>
<line x1="410.0" y1="97.9" x2="410.0" y2="116.4" stroke="#6c2a3a" stroke-width="1.1"/>
<rect x="406.0" y="105.5" width="8" height="4" fill="#fff"/>
<line x1="406.4" y1="106.0" x2="413.6" y2="106.0" stroke="#3a3f78" stroke-width="1.3"/>
<line x1="406.4" y1="109.0" x2="413.6" y2="109.0" stroke="#3a3f78" stroke-width="1.3"/>
<circle cx="425.4" cy="97.9" r="1.6" fill="#6c2a3a"/>
<line x1="425.4" y1="97.9" x2="425.4" y2="116.4" stroke="#6c2a3a" stroke-width="1.1"/>
<rect x="421.4" y="105.5" width="8" height="4" fill="#fff"/>
<rect x="421.6" y="105.7" width="7.6" height="3.6" fill="#2b3a9a" stroke="#3a3f78" stroke-width="0.8"/>
<line x1="394.6" y1="116.4" x2="434.3" y2="116.4" stroke="#6c2a3a" stroke-width="1.1"/>
<circle cx="410.0" cy="116.4" r="1.6" fill="#6c2a3a"/>
<circle cx="425.4" cy="116.4" r="1.6" fill="#6c2a3a"/>
<line x1="434.3" y1="116.4" x2="434.3" y2="119.5" stroke="#6c2a3a" stroke-width="1.1"/>
<polygon points="431.3,119.5 437.3,119.5 434.3,123.0" fill="none" stroke="#3a3f78" stroke-width="1.3"/>
<text x="440.0" y="122.0" font-size="3.3" fill="#8c7d3c" text-anchor="start" font-weight="normal" font-family="Liberation Sans">GND</text>
<circle cx="425.4" cy="84.0" r="2" fill="#fff" stroke="#3a3f78" stroke-width="1"/>
<text x="425.4" y="80.0" font-size="3.5" fill="#8c7d3c" text-anchor="middle" font-weight="normal" font-family="Liberation Sans">VCC</text>
<line x1="425.4" y1="86.0" x2="425.4" y2="97.9" stroke="#3a3f78" stroke-width="1.2"/>
<text x="398.0" y="106.0" font-size="3.5" fill="#8c7d3c" text-anchor="start" font-weight="normal" font-family="Liberation Sans">C1</text>
<text x="413.0" y="106.0" font-size="3.5" fill="#8c7d3c" text-anchor="start" font-weight="normal" font-family="Liberation Sans">C2</text>
<text x="428.0" y="106.0" font-size="3.5" fill="#8c7d3c" text-anchor="start" font-weight="normal" font-family="Liberation Sans">C3</text>
<line x1="381.0" y1="134.9" x2="404.0" y2="134.9" stroke="#6c2a3a" stroke-width="1.1"/>
<line x1="381.0" y1="144.1" x2="404.0" y2="144.1" stroke="#6c2a3a" stroke-width="1.1"/>
<rect x="390.5" y="130.9" width="4" height="8" fill="#fff"/>
<line x1="391.0" y1="130.9" x2="391.0" y2="138.9" stroke="#3a3f78" stroke-width="1.2"/>
<line x1="394.0" y1="130.9" x2="394.0" y2="138.9" stroke="#3a3f78" stroke-width="1.2"/>
<text x="386.0" y="131.9" font-size="4" fill="#8c7d3c" text-anchor="start" font-weight="normal" font-family="Liberation Sans">220nF</text>
<text x="394.0" y="140.9" font-size="4" fill="#8c7d3c" text-anchor="start" font-weight="normal" font-family="Liberation Sans">C6</text>
<line x1="404.0" y1="134.9" x2="404.0" y2="144.1" stroke="#6c2a3a" stroke-width="1.1"/>
<circle cx="404.0" cy="134.9" r="1.6" fill="#6c2a3a"/>
<circle cx="404.0" cy="144.1" r="1.6" fill="#6c2a3a"/>
<line x1="404.0" y1="144.1" x2="443.6" y2="144.1" stroke="#6c2a3a" stroke-width="1.1"/>
<rect x="411.6" y="140.1" width="4" height="8" fill="#fff"/>
<line x1="412.1" y1="140.1" x2="412.1" y2="148.1" stroke="#3a3f78" stroke-width="1.2"/>
<line x1="415.1" y1="140.1" x2="415.1" y2="148.1" stroke="#3a3f78" stroke-width="1.2"/>
<rect x="425.7" y="141.1" width="12.2" height="6" fill="#f4f0e0" stroke="#3a3f78" stroke-width="0.9"/>
<rect x="427.7" y="142.6" width="8.2" height="3" fill="none" stroke="#8c7d3c" stroke-width="0.7"/>
<text x="415.0" y="150.6" font-size="4" fill="#8c7d3c" text-anchor="start" font-weight="normal" font-family="Liberation Sans">C4</text>
<text x="431.8" y="151.1" font-size="4" fill="#8c7d3c" text-anchor="middle" font-weight="normal" font-family="Liberation Sans">R3</text>
<line x1="443.6" y1="144.1" x2="443.6" y2="149.1" stroke="#6c2a3a" stroke-width="1.1"/>
<polygon points="440.6,149.1 446.6,149.1 443.6,152.6" fill="none" stroke="#3a3f78" stroke-width="1.3"/>
<polyline points="404.0,134.9 453.6,134.9 453.6,135.2 530.0,135.2" fill="none" stroke="#6c2a3a" stroke-width="1.1"/>
<rect x="436.4" y="132.9" width="10.0" height="3" fill="#243a9a"/>
<text x="441.0" y="131.4" font-size="4" fill="#8c7d3c" text-anchor="middle" font-weight="normal" font-family="Liberation Sans">L1</text>
<circle cx="453.6" cy="135.2" r="1.6" fill="#6c2a3a"/>
<line x1="453.6" y1="135.2" x2="453.6" y2="155.2" stroke="#6c2a3a" stroke-width="1.1"/>
<rect x="449.6" y="143.2" width="8" height="4" fill="#fff"/>
<line x1="450.0" y1="143.7" x2="457.2" y2="143.7" stroke="#3a3f78" stroke-width="1.3"/>
<line x1="450.0" y1="146.7" x2="457.2" y2="146.7" stroke="#3a3f78" stroke-width="1.3"/>
<polygon points="450.6,155.2 456.6,155.2 453.6,158.7" fill="none" stroke="#3a3f78" stroke-width="1.3"/>
<text x="456.5" y="143.2" font-size="4.2" fill="#8c7d3c" text-anchor="start" font-weight="normal" font-family="Liberation Sans">C8</text>
<text x="456.5" y="150.2" font-size="4.2" fill="#8c7d3c" text-anchor="start" font-weight="normal" font-family="Liberation Sans">0.68</text>
<line x1="452.9" y1="122.8" x2="452.9" y2="135.2" stroke="#6c2a3a" stroke-width="1.1"/>
<line x1="452.9" y1="122.8" x2="501.7" y2="122.8" stroke="#6c2a3a" stroke-width="1.1"/>
<rect x="462.3" y="119.8" width="12.9" height="6" fill="#f4f0e0" stroke="#3a3f78" stroke-width="0.9"/>
<rect x="464.3" y="121.3" width="8.9" height="3" fill="none" stroke="#8c7d3c" stroke-width="0.7"/>
<rect x="485.2" y="118.8" width="4" height="8" fill="#fff"/>
<line x1="485.7" y1="118.8" x2="485.7" y2="126.8" stroke="#3a3f78" stroke-width="1.2"/>
<line x1="488.7" y1="118.8" x2="488.7" y2="126.8" stroke="#3a3f78" stroke-width="1.2"/>
<polygon points="501.7,119.8 501.7,125.8 505.2,122.8" fill="none" stroke="#3a3f78" stroke-width="1.3"/>
<text x="488.7" y="117.8" font-size="4" fill="#8c7d3c" text-anchor="start" font-weight="normal" font-family="Liberation Sans" transform="rotate(-90 488.7 117.8)">0.01</text>
<text x="468.7" y="129.8" font-size="4" fill="#8c7d3c" text-anchor="middle" font-weight="normal" font-family="Liberation Sans">R2</text>
<text x="491.2" y="124.8" font-size="4" fill="#8c7d3c" text-anchor="start" font-weight="normal" font-family="Liberation Sans" transform="rotate(-90 491.2 124.8)">C5</text>
<text x="508.7" y="122.8" font-size="4" fill="#8c7d3c" text-anchor="middle" font-weight="normal" font-family="Liberation Sans" transform="rotate(-90 508.7 122.8)">GND</text>
<line x1="381.0" y1="153.3" x2="395.7" y2="153.3" stroke="#6c2a3a" stroke-width="1.1"/>
<polygon points="395.7,150.3 395.7,156.3 399.2,153.3" fill="none" stroke="#3a3f78" stroke-width="1.3"/>
<text x="402.5" y="153.3" font-size="3.6" fill="#8c7d3c" text-anchor="middle" font-weight="normal" font-family="Liberation Sans" transform="rotate(-90 402.5 153.3)">GND</text>
<rect x="530.0" y="131.7" width="7.0" height="7.0" fill="#dfe5f7" stroke="#3a3f78" stroke-width="1.4"/>
<line x1="525.0" y1="135.2" x2="533.0" y2="135.2" stroke="#3a3f78" stroke-width="1.2"/>
<text x="533.5" y="129.7" font-size="7" fill="#8c7d3c" text-anchor="middle" font-weight="normal" font-family="Liberation Sans">P3</text>
<line x1="381.0" y1="162.6" x2="404.0" y2="162.6" stroke="#6c2a3a" stroke-width="1.1"/>
<line x1="381.0" y1="171.8" x2="404.0" y2="171.8" stroke="#6c2a3a" stroke-width="1.1"/>
<rect x="390.5" y="167.8" width="4" height="8" fill="#fff"/>
<line x1="391.0" y1="167.8" x2="391.0" y2="175.8" stroke="#3a3f78" stroke-width="1.2"/>
<line x1="394.0" y1="167.8" x2="394.0" y2="175.8" stroke="#3a3f78" stroke-width="1.2"/>
<text x="386.0" y="168.8" font-size="4" fill="#8c7d3c" text-anchor="start" font-weight="normal" font-family="Liberation Sans">220nF</text>
<text x="394.0" y="177.8" font-size="4" fill="#8c7d3c" text-anchor="start" font-weight="normal" font-family="Liberation Sans">C10</text>
<line x1="404.0" y1="162.6" x2="404.0" y2="171.8" stroke="#6c2a3a" stroke-width="1.1"/>
<circle cx="404.0" cy="162.6" r="1.6" fill="#6c2a3a"/>
<circle cx="404.0" cy="171.8" r="1.6" fill="#6c2a3a"/>
<line x1="404.0" y1="171.8" x2="443.6" y2="171.8" stroke="#6c2a3a" stroke-width="1.1"/>
<rect x="411.6" y="167.8" width="4" height="8" fill="#fff"/>
<line x1="412.1" y1="167.8" x2="412.1" y2="175.8" stroke="#3a3f78" stroke-width="1.2"/>
<line x1="415.1" y1="167.8" x2="415.1" y2="175.8" stroke="#3a3f78" stroke-width="1.2"/>
<rect x="425.7" y="168.8" width="12.2" height="6" fill="#f4f0e0" stroke="#3a3f78" stroke-width="0.9"/>
<rect x="427.7" y="170.3" width="8.2" height="3" fill="none" stroke="#8c7d3c" stroke-width="0.7"/>
<text x="415.0" y="178.3" font-size="4" fill="#8c7d3c" text-anchor="start" font-weight="normal" font-family="Liberation Sans">C9</text>
<text x="431.8" y="178.8" font-size="4" fill="#8c7d3c" text-anchor="middle" font-weight="normal" font-family="Liberation Sans">R6</text>
<line x1="443.6" y1="171.8" x2="443.6" y2="176.8" stroke="#6c2a3a" stroke-width="1.1"/>
<polygon points="440.6,176.8 446.6,176.8 443.6,180.3" fill="none" stroke="#3a3f78" stroke-width="1.3"/>
<polyline points="404.0,162.6 453.6,162.6 453.6,162.6 530.0,162.6" fill="none" stroke="#6c2a3a" stroke-width="1.1"/>
<rect x="436.4" y="160.6" width="10.0" height="3" fill="#243a9a"/>
<text x="441.0" y="159.1" font-size="4" fill="#8c7d3c" text-anchor="middle" font-weight="normal" font-family="Liberation Sans">L2</text>
<circle cx="453.6" cy="162.6" r="1.6" fill="#6c2a3a"/>
<line x1="453.6" y1="162.6" x2="453.6" y2="182.6" stroke="#6c2a3a" stroke-width="1.1"/>
<rect x="449.6" y="170.6" width="8" height="4" fill="#fff"/>
<line x1="450.0" y1="171.1" x2="457.2" y2="171.1" stroke="#3a3f78" stroke-width="1.3"/>
<line x1="450.0" y1="174.1" x2="457.2" y2="174.1" stroke="#3a3f78" stroke-width="1.3"/>
<polygon points="450.6,182.6 456.6,182.6 453.6,186.1" fill="none" stroke="#3a3f78" stroke-width="1.3"/>
<text x="456.5" y="170.6" font-size="4.2" fill="#8c7d3c" text-anchor="start" font-weight="normal" font-family="Liberation Sans">C13</text>
<text x="456.5" y="177.6" font-size="4.2" fill="#8c7d3c" text-anchor="start" font-weight="normal" font-family="Liberation Sans">0.68</text>
<circle cx="459.7" cy="162.6" r="1.6" fill="#6c2a3a"/>
<line x1="459.7" y1="153.7" x2="459.7" y2="162.6" stroke="#6c2a3a" stroke-width="1.1"/>
<line x1="459.7" y1="153.7" x2="505.0" y2="153.7" stroke="#6c2a3a" stroke-width="1.1"/>
<rect x="465.7" y="150.7" width="12.9" height="6" fill="#f4f0e0" stroke="#3a3f78" stroke-width="0.9"/>
<rect x="467.7" y="152.2" width="8.9" height="3" fill="none" stroke="#8c7d3c" stroke-width="0.7"/>
<rect x="487.7" y="149.7" width="4" height="8" fill="#fff"/>
<line x1="488.2" y1="149.7" x2="488.2" y2="157.7" stroke="#3a3f78" stroke-width="1.2"/>
<line x1="491.2" y1="149.7" x2="491.2" y2="157.7" stroke="#3a3f78" stroke-width="1.2"/>
<polygon points="505.0,150.7 505.0,156.7 508.5,153.7" fill="none" stroke="#3a3f78" stroke-width="1.3"/>
<text x="491.2" y="148.7" font-size="4" fill="#8c7d3c" text-anchor="start" font-weight="normal" font-family="Liberation Sans" transform="rotate(-90 491.2 148.7)">0.01</text>
<text x="472.1" y="160.7" font-size="4" fill="#8c7d3c" text-anchor="middle" font-weight="normal" font-family="Liberation Sans">R4</text>
<text x="493.7" y="155.7" font-size="4" fill="#8c7d3c" text-anchor="start" font-weight="normal" font-family="Liberation Sans" transform="rotate(-90 493.7 155.7)">C11</text>
<text x="512.0" y="153.7" font-size="4" fill="#8c7d3c" text-anchor="middle" font-weight="normal" font-family="Liberation Sans" transform="rotate(-90 512.0 153.7)">GND</text>
<line x1="381.0" y1="181.0" x2="395.7" y2="181.0" stroke="#6c2a3a" stroke-width="1.1"/>
<polygon points="395.7,178.0 395.7,184.0 399.2,181.0" fill="none" stroke="#3a3f78" stroke-width="1.3"/>
<text x="402.5" y="181.0" font-size="3.6" fill="#8c7d3c" text-anchor="middle" font-weight="normal" font-family="Liberation Sans" transform="rotate(-90 402.5 181.0)">GND</text>
<rect x="530.0" y="159.1" width="7.0" height="7.0" fill="#dfe5f7" stroke="#3a3f78" stroke-width="1.4"/>
<line x1="525.0" y1="162.6" x2="533.0" y2="162.6" stroke="#3a3f78" stroke-width="1.2"/>
<text x="533.5" y="157.1" font-size="7" fill="#8c7d3c" text-anchor="middle" font-weight="normal" font-family="Liberation Sans">P6</text>
<line x1="381.0" y1="190.2" x2="404.0" y2="190.2" stroke="#6c2a3a" stroke-width="1.1"/>
<line x1="381.0" y1="199.5" x2="404.0" y2="199.5" stroke="#6c2a3a" stroke-width="1.1"/>
<rect x="390.5" y="186.2" width="4" height="8" fill="#fff"/>
<line x1="391.0" y1="186.2" x2="391.0" y2="194.2" stroke="#3a3f78" stroke-width="1.2"/>
<line x1="394.0" y1="186.2" x2="394.0" y2="194.2" stroke="#3a3f78" stroke-width="1.2"/>
<text x="386.0" y="187.2" font-size="4" fill="#8c7d3c" text-anchor="start" font-weight="normal" font-family="Liberation Sans">220nF</text>
<text x="394.0" y="196.2" font-size="4" fill="#8c7d3c" text-anchor="start" font-weight="normal" font-family="Liberation Sans">C16</text>
<line x1="404.0" y1="190.2" x2="404.0" y2="199.5" stroke="#6c2a3a" stroke-width="1.1"/>
<circle cx="404.0" cy="190.2" r="1.6" fill="#6c2a3a"/>
<circle cx="404.0" cy="199.5" r="1.6" fill="#6c2a3a"/>
<line x1="404.0" y1="199.5" x2="443.6" y2="199.5" stroke="#6c2a3a" stroke-width="1.1"/>
<rect x="411.6" y="195.5" width="4" height="8" fill="#fff"/>
<line x1="412.1" y1="195.5" x2="412.1" y2="203.5" stroke="#3a3f78" stroke-width="1.2"/>
<line x1="415.1" y1="195.5" x2="415.1" y2="203.5" stroke="#3a3f78" stroke-width="1.2"/>
<rect x="425.7" y="196.5" width="12.2" height="6" fill="#f4f0e0" stroke="#3a3f78" stroke-width="0.9"/>
<rect x="427.7" y="198.0" width="8.2" height="3" fill="none" stroke="#8c7d3c" stroke-width="0.7"/>
<text x="415.0" y="206.0" font-size="4" fill="#8c7d3c" text-anchor="start" font-weight="normal" font-family="Liberation Sans">C15</text>
<text x="431.8" y="206.5" font-size="4" fill="#8c7d3c" text-anchor="middle" font-weight="normal" font-family="Liberation Sans">R8</text>
<line x1="443.6" y1="199.5" x2="443.6" y2="204.5" stroke="#6c2a3a" stroke-width="1.1"/>
<polygon points="440.6,204.5 446.6,204.5 443.6,208.0" fill="none" stroke="#3a3f78" stroke-width="1.3"/>
<polyline points="404.0,190.2 453.6,190.2 453.6,190.0 530.0,190.0" fill="none" stroke="#6c2a3a" stroke-width="1.1"/>
<rect x="436.4" y="188.2" width="10.0" height="3" fill="#243a9a"/>
<text x="441.0" y="186.7" font-size="4" fill="#8c7d3c" text-anchor="middle" font-weight="normal" font-family="Liberation Sans">L3</text>
<circle cx="453.6" cy="190.0" r="1.6" fill="#6c2a3a"/>
<line x1="453.6" y1="190.0" x2="453.6" y2="210.0" stroke="#6c2a3a" stroke-width="1.1"/>
<rect x="449.6" y="198.0" width="8" height="4" fill="#fff"/>
<line x1="450.0" y1="198.5" x2="457.2" y2="198.5" stroke="#3a3f78" stroke-width="1.3"/>
<line x1="450.0" y1="201.5" x2="457.2" y2="201.5" stroke="#3a3f78" stroke-width="1.3"/>
<polygon points="450.6,210.0 456.6,210.0 453.6,213.5" fill="none" stroke="#3a3f78" stroke-width="1.3"/>
<text x="456.5" y="198.0" font-size="4.2" fill="#8c7d3c" text-anchor="start" font-weight="normal" font-family="Liberation Sans">C19</text>
<text x="456.5" y="205.0" font-size="4.2" fill="#8c7d3c" text-anchor="start" font-weight="normal" font-family="Liberation Sans">0.68</text>
<circle cx="459.7" cy="190.0" r="1.6" fill="#6c2a3a"/>
<line x1="459.7" y1="178.4" x2="459.7" y2="190.0" stroke="#6c2a3a" stroke-width="1.1"/>
<line x1="459.7" y1="178.4" x2="505.0" y2="178.4" stroke="#6c2a3a" stroke-width="1.1"/>
<rect x="465.7" y="175.4" width="12.9" height="6" fill="#f4f0e0" stroke="#3a3f78" stroke-width="0.9"/>
<rect x="467.7" y="176.9" width="8.9" height="3" fill="none" stroke="#8c7d3c" stroke-width="0.7"/>
<rect x="487.7" y="174.4" width="4" height="8" fill="#fff"/>
<line x1="488.2" y1="174.4" x2="488.2" y2="182.4" stroke="#3a3f78" stroke-width="1.2"/>
<line x1="491.2" y1="174.4" x2="491.2" y2="182.4" stroke="#3a3f78" stroke-width="1.2"/>
<polygon points="505.0,175.4 505.0,181.4 508.5,178.4" fill="none" stroke="#3a3f78" stroke-width="1.3"/>
<text x="491.2" y="173.4" font-size="4" fill="#8c7d3c" text-anchor="start" font-weight="normal" font-family="Liberation Sans" transform="rotate(-90 491.2 173.4)">0.01</text>
<text x="472.1" y="185.4" font-size="4" fill="#8c7d3c" text-anchor="middle" font-weight="normal" font-family="Liberation Sans">R7</text>
<text x="493.7" y="180.4" font-size="4" fill="#8c7d3c" text-anchor="start" font-weight="normal" font-family="Liberation Sans" transform="rotate(-90 493.7 180.4)">C17</text>
<text x="512.0" y="178.4" font-size="4" fill="#8c7d3c" text-anchor="middle" font-weight="normal" font-family="Liberation Sans" transform="rotate(-90 512.0 178.4)">GND</text>
<line x1="381.0" y1="208.7" x2="395.7" y2="208.7" stroke="#6c2a3a" stroke-width="1.1"/>
<polygon points="395.7,205.7 395.7,211.7 399.2,208.7" fill="none" stroke="#3a3f78" stroke-width="1.3"/>
<text x="402.5" y="208.7" font-size="3.6" fill="#8c7d3c" text-anchor="middle" font-weight="normal" font-family="Liberation Sans" transform="rotate(-90 402.5 208.7)">GND</text>
<rect x="530.0" y="186.5" width="7.0" height="7.0" fill="#dfe5f7" stroke="#3a3f78" stroke-width="1.4"/>
<line x1="525.0" y1="190.0" x2="533.0" y2="190.0" stroke="#3a3f78" stroke-width="1.2"/>
<text x="533.5" y="184.5" font-size="7" fill="#8c7d3c" text-anchor="middle" font-weight="normal" font-family="Liberation Sans">P8</text>
<line x1="381.0" y1="217.9" x2="404.0" y2="217.9" stroke="#6c2a3a" stroke-width="1.1"/>
<line x1="381.0" y1="227.2" x2="404.0" y2="227.2" stroke="#6c2a3a" stroke-width="1.1"/>
<rect x="390.5" y="223.2" width="4" height="8" fill="#fff"/>
<line x1="391.0" y1="223.2" x2="391.0" y2="231.2" stroke="#3a3f78" stroke-width="1.2"/>
<line x1="394.0" y1="223.2" x2="394.0" y2="231.2" stroke="#3a3f78" stroke-width="1.2"/>
<text x="386.0" y="224.2" font-size="4" fill="#8c7d3c" text-anchor="start" font-weight="normal" font-family="Liberation Sans">220nF</text>
<text x="394.0" y="233.2" font-size="4" fill="#8c7d3c" text-anchor="start" font-weight="normal" font-family="Liberation Sans">C22</text>
<line x1="404.0" y1="217.9" x2="404.0" y2="227.2" stroke="#6c2a3a" stroke-width="1.1"/>
<circle cx="404.0" cy="217.9" r="1.6" fill="#6c2a3a"/>
<circle cx="404.0" cy="227.2" r="1.6" fill="#6c2a3a"/>
<line x1="404.0" y1="227.2" x2="443.6" y2="227.2" stroke="#6c2a3a" stroke-width="1.1"/>
<rect x="411.6" y="223.2" width="4" height="8" fill="#fff"/>
<line x1="412.1" y1="223.2" x2="412.1" y2="231.2" stroke="#3a3f78" stroke-width="1.2"/>
<line x1="415.1" y1="223.2" x2="415.1" y2="231.2" stroke="#3a3f78" stroke-width="1.2"/>
<rect x="425.7" y="224.2" width="12.2" height="6" fill="#f4f0e0" stroke="#3a3f78" stroke-width="0.9"/>
<rect x="427.7" y="225.7" width="8.2" height="3" fill="none" stroke="#8c7d3c" stroke-width="0.7"/>
<text x="415.0" y="233.7" font-size="4" fill="#8c7d3c" text-anchor="start" font-weight="normal" font-family="Liberation Sans">C21</text>
<text x="431.8" y="234.2" font-size="4" fill="#8c7d3c" text-anchor="middle" font-weight="normal" font-family="Liberation Sans">R11</text>
<line x1="443.6" y1="227.2" x2="443.6" y2="232.2" stroke="#6c2a3a" stroke-width="1.1"/>
<polygon points="440.6,232.2 446.6,232.2 443.6,235.7" fill="none" stroke="#3a3f78" stroke-width="1.3"/>
<polyline points="404.0,217.9 453.6,217.9 453.6,218.4 530.0,218.4" fill="none" stroke="#6c2a3a" stroke-width="1.1"/>
<rect x="436.4" y="215.9" width="10.0" height="3" fill="#243a9a"/>
<text x="441.0" y="214.4" font-size="4" fill="#8c7d3c" text-anchor="middle" font-weight="normal" font-family="Liberation Sans">L4</text>
<circle cx="453.6" cy="218.4" r="1.6" fill="#6c2a3a"/>
<line x1="453.6" y1="218.4" x2="453.6" y2="238.4" stroke="#6c2a3a" stroke-width="1.1"/>
<rect x="449.6" y="226.4" width="8" height="4" fill="#fff"/>
<line x1="450.0" y1="226.9" x2="457.2" y2="226.9" stroke="#3a3f78" stroke-width="1.3"/>
<line x1="450.0" y1="229.9" x2="457.2" y2="229.9" stroke="#3a3f78" stroke-width="1.3"/>
<polygon points="450.6,238.4 456.6,238.4 453.6,241.9" fill="none" stroke="#3a3f78" stroke-width="1.3"/>
<text x="456.5" y="226.4" font-size="4.2" fill="#8c7d3c" text-anchor="start" font-weight="normal" font-family="Liberation Sans">C24</text>
<text x="456.5" y="233.4" font-size="4.2" fill="#8c7d3c" text-anchor="start" font-weight="normal" font-family="Liberation Sans">0.68</text>
<circle cx="459.7" cy="218.4" r="1.6" fill="#6c2a3a"/>
<line x1="459.7" y1="206.3" x2="459.7" y2="218.4" stroke="#6c2a3a" stroke-width="1.1"/>
<line x1="459.7" y1="206.3" x2="505.0" y2="206.3" stroke="#6c2a3a" stroke-width="1.1"/>
<rect x="465.7" y="203.3" width="12.9" height="6" fill="#f4f0e0" stroke="#3a3f78" stroke-width="0.9"/>
<rect x="467.7" y="204.8" width="8.9" height="3" fill="none" stroke="#8c7d3c" stroke-width="0.7"/>
<rect x="487.7" y="202.3" width="4" height="8" fill="#fff"/>
<line x1="488.2" y1="202.3" x2="488.2" y2="210.3" stroke="#3a3f78" stroke-width="1.2"/>
<line x1="491.2" y1="202.3" x2="491.2" y2="210.3" stroke="#3a3f78" stroke-width="1.2"/>
<polygon points="505.0,203.3 505.0,209.3 508.5,206.3" fill="none" stroke="#3a3f78" stroke-width="1.3"/>
<text x="491.2" y="201.3" font-size="4" fill="#8c7d3c" text-anchor="start" font-weight="normal" font-family="Liberation Sans" transform="rotate(-90 491.2 201.3)">0.01</text>
<text x="472.1" y="213.3" font-size="4" fill="#8c7d3c" text-anchor="middle" font-weight="normal" font-family="Liberation Sans">R10</text>
<text x="493.7" y="208.3" font-size="4" fill="#8c7d3c" text-anchor="start" font-weight="normal" font-family="Liberation Sans" transform="rotate(-90 493.7 208.3)">C23</text>
<text x="512.0" y="206.3" font-size="4" fill="#8c7d3c" text-anchor="middle" font-weight="normal" font-family="Liberation Sans" transform="rotate(-90 512.0 206.3)">GND</text>
<rect x="530.0" y="214.9" width="7.0" height="7.0" fill="#dfe5f7" stroke="#3a3f78" stroke-width="1.4"/>
<line x1="525.0" y1="218.4" x2="533.0" y2="218.4" stroke="#3a3f78" stroke-width="1.2"/>
<text x="533.5" y="212.9" font-size="7" fill="#8c7d3c" text-anchor="middle" font-weight="normal" font-family="Liberation Sans">P11</text>
<line x1="381.0" y1="236.4" x2="385.7" y2="236.4" stroke="#6c2a3a" stroke-width="1.1"/>
<line x1="381.0" y1="245.6" x2="385.7" y2="245.6" stroke="#6c2a3a" stroke-width="1.1"/>
<line x1="385.7" y1="236.4" x2="385.7" y2="254.9" stroke="#6c2a3a" stroke-width="1.1"/>
<circle cx="385.7" cy="245.6" r="1.6" fill="#6c2a3a"/>
<circle cx="385.7" cy="254.9" r="1.6" fill="#6c2a3a"/>
<line x1="381.0" y1="254.9" x2="428.8" y2="254.9" stroke="#6c2a3a" stroke-width="1.1"/>
<circle cx="428.8" cy="247.1" r="2" fill="#fff" stroke="#3a3f78" stroke-width="1"/>
<text x="428.8" y="243.1" font-size="3.5" fill="#8c7d3c" text-anchor="middle" font-weight="normal" font-family="Liberation Sans">VCC</text>
<line x1="428.8" y1="249.1" x2="428.8" y2="254.9" stroke="#3a3f78" stroke-width="1.2"/>
<circle cx="398.1" cy="254.9" r="1.6" fill="#6c2a3a"/>
<line x1="398.1" y1="254.9" x2="398.1" y2="276.9" stroke="#6c2a3a" stroke-width="1.1"/>
<rect x="394.1" y="262.8" width="8" height="4" fill="#fff"/>
<line x1="394.5" y1="263.3" x2="401.7" y2="263.3" stroke="#3a3f78" stroke-width="1.3"/>
<line x1="394.5" y1="266.3" x2="401.7" y2="266.3" stroke="#3a3f78" stroke-width="1.3"/>
<circle cx="413.5" cy="254.9" r="1.6" fill="#6c2a3a"/>
<line x1="413.5" y1="254.9" x2="413.5" y2="276.9" stroke="#6c2a3a" stroke-width="1.1"/>
<rect x="409.5" y="262.8" width="8" height="4" fill="#fff"/>
<line x1="409.9" y1="263.3" x2="417.1" y2="263.3" stroke="#3a3f78" stroke-width="1.3"/>
<line x1="409.9" y1="266.3" x2="417.1" y2="266.3" stroke="#3a3f78" stroke-width="1.3"/>
<circle cx="428.8" cy="254.9" r="1.6" fill="#6c2a3a"/>
<line x1="428.8" y1="254.9" x2="428.8" y2="276.9" stroke="#6c2a3a" stroke-width="1.1"/>
<rect x="424.8" y="262.8" width="8" height="4" fill="#fff"/>
<rect x="425.0" y="263.0" width="7.6" height="3.6" fill="#2b3a9a" stroke="#3a3f78" stroke-width="0.8"/>
<line x1="398.1" y1="276.9" x2="428.8" y2="276.9" stroke="#6c2a3a" stroke-width="1.1"/>
<circle cx="413.5" cy="276.9" r="1.6" fill="#6c2a3a"/>
<line x1="398.1" y1="276.9" x2="398.1" y2="281.0" stroke="#6c2a3a" stroke-width="1.1"/>
<polygon points="395.1,281.0 401.1,281.0 398.1,284.5" fill="none" stroke="#3a3f78" stroke-width="1.3"/>
<text x="398.1" y="289.0" font-size="3.3" fill="#8c7d3c" text-anchor="middle" font-weight="normal" font-family="Liberation Sans">GND</text>
<rect x="530.0" y="94.0" width="7.0" height="7.0" fill="#dfe5f7" stroke="#3a3f78" stroke-width="1.4"/>
<text x="533.5" y="91.0" font-size="7" fill="#8c7d3c" text-anchor="middle" font-weight="normal" font-family="Liberation Sans">P1</text>
<text x="552.0" y="100.2" font-size="11.8" fill="#3d853d" text-anchor="start" font-weight="normal" font-family="Liberation Sans" textLength="66.7" lengthAdjust="spacingAndGlyphs" stroke="#3d853d" stroke-width="0.2">+4,5 ... 26В</text>
<polyline points="537.0,135.2 549.3,135.2 549.3,162.6" fill="none" stroke="#3a3f78" stroke-width="1.1"/>
<polyline points="537.0,162.6 562.3,162.6 562.3,174.0 587.4,174.0" fill="none" stroke="#6c2a3a" stroke-width="1.1"/>
<polyline points="537.0,190.0 562.3,190.0 562.3,180.9 587.4,180.9" fill="none" stroke="#6c2a3a" stroke-width="1.1"/>
<polyline points="537.0,218.4 550.4,218.4 550.4,190.0" fill="none" stroke="#3a3f78" stroke-width="1.1"/>
<rect x="587.4" y="170.6" width="6.9" height="12.5" fill="#fff" stroke="#3a3f78" stroke-width="1"/>
<polygon points="594.3,170.6 602.3,163.7 602.3,188.9 594.3,183.1" fill="#fff" stroke="#3a3f78" stroke-width="1"/>
<text x="588.0" y="165.0" font-size="4" fill="#8c7d3c" text-anchor="middle" font-weight="normal" font-family="Liberation Sans">Speaker</text>
<rect x="530.0" y="272.3" width="7.4" height="7.4" fill="#dfe5f7" stroke="#3a3f78" stroke-width="1.4"/>
<polyline points="530.0,277.0 512.0,277.0 512.0,283.5" fill="none" stroke="#3a3f78" stroke-width="1.1"/>
<polygon points="509.0,283.5 515.0,283.5 512.0,287.0" fill="none" stroke="#3a3f78" stroke-width="1.3"/>
<text x="512.0" y="291.0" font-size="3.3" fill="#8c7d3c" text-anchor="middle" font-weight="normal" font-family="Liberation Sans">GND</text>
<text x="533.5" y="270.0" font-size="3.5" fill="#8c7d3c" text-anchor="middle" font-weight="normal" font-family="Liberation Sans">P18</text>
<text x="561.6" y="281.6" font-size="11.6" fill="#3d853d" text-anchor="start" font-weight="normal" font-family="Liberation Sans" textLength="35.8" lengthAdjust="spacingAndGlyphs" stroke="#3d853d" stroke-width="0.2">Общий</text>
<rect x="258" y="396.5" width="215.6" height="216.5" fill="#2040f2" stroke="#1428b0" stroke-width="1.2"/>
<g stroke="#3650f2" stroke-width="1.2" fill="none">
<polygon points="366,468 402,504 366,540 330,504"/>
<polygon points="366,476 394,504 366,532 338,504"/>
<line x1="300" y1="540" x2="340" y2="580"/><line x1="300" y1="470" x2="340" y2="430"/>
</g>
<rect x="351.3" y="397.4" width="54.5" height="54.4" fill="none" stroke="#b4c0ff" stroke-width="1"/>
<polygon points="363.3,400.9 394.8,400.9 403.3,409.4 403.3,440.8 394.8,449.3 363.3,449.3 354.8,440.8 354.8,409.4" fill="#3b3b3d" stroke="#545457" stroke-width="3.5" stroke-linejoin="round"/>
<rect x="407.9" y="447.1" width="54.4" height="54.4" fill="none" stroke="#b4c0ff" stroke-width="1"/>
<polygon points="419.9,450.6 451.3,450.6 459.8,459.1 459.8,490.5 451.3,499.0 419.9,499.0 411.4,490.5 411.4,459.1" fill="#3b3b3d" stroke="#545457" stroke-width="3.5" stroke-linejoin="round"/>
<rect x="407.9" y="507.1" width="54.4" height="54.4" fill="none" stroke="#b4c0ff" stroke-width="1"/>
<polygon points="419.9,510.6 451.3,510.6 459.8,519.1 459.8,550.5 451.3,559.0 419.9,559.0 411.4,550.5 411.4,519.1" fill="#3b3b3d" stroke="#545457" stroke-width="3.5" stroke-linejoin="round"/>
<rect x="351.3" y="555.0" width="54.5" height="54.5" fill="none" stroke="#b4c0ff" stroke-width="1"/>
<polygon points="363.3,558.5 394.8,558.5 403.3,567.0 403.3,598.5 394.8,607.0 363.3,607.0 354.8,598.5 354.8,567.0" fill="#3b3b3d" stroke="#545457" stroke-width="3.5" stroke-linejoin="round"/>
<rect x="292.7" y="483.2" width="6.6" height="1.6" fill="#e6d8ea"/>
<rect x="324.2" y="483.2" width="6.6" height="1.6" fill="#e6d8ea"/>
<rect x="292.7" y="486.0" width="6.6" height="1.6" fill="#e6d8ea"/>
<rect x="324.2" y="486.0" width="6.6" height="1.6" fill="#e6d8ea"/>
<rect x="292.7" y="488.8" width="6.6" height="1.6" fill="#e6d8ea"/>
<rect x="324.2" y="488.8" width="6.6" height="1.6" fill="#e6d8ea"/>
<rect x="292.7" y="491.7" width="6.6" height="1.6" fill="#e6d8ea"/>
<rect x="324.2" y="491.7" width="6.6" height="1.6" fill="#e6d8ea"/>
<rect x="292.7" y="494.5" width="6.6" height="1.6" fill="#e6d8ea"/>
<rect x="324.2" y="494.5" width="6.6" height="1.6" fill="#e6d8ea"/>
<rect x="292.7" y="497.3" width="6.6" height="1.6" fill="#e6d8ea"/>
<rect x="324.2" y="497.3" width="6.6" height="1.6" fill="#e6d8ea"/>
<rect x="292.7" y="500.1" width="6.6" height="1.6" fill="#e6d8ea"/>
<rect x="324.2" y="500.1" width="6.6" height="1.6" fill="#e6d8ea"/>
<rect x="292.7" y="502.9" width="6.6" height="1.6" fill="#e6d8ea"/>
<rect x="324.2" y="502.9" width="6.6" height="1.6" fill="#e6d8ea"/>
<rect x="292.7" y="505.8" width="6.6" height="1.6" fill="#e6d8ea"/>
<rect x="324.2" y="505.8" width="6.6" height="1.6" fill="#e6d8ea"/>
<rect x="292.7" y="508.6" width="6.6" height="1.6" fill="#e6d8ea"/>
<rect x="324.2" y="508.6" width="6.6" height="1.6" fill="#e6d8ea"/>
<rect x="292.7" y="511.4" width="6.6" height="1.6" fill="#e6d8ea"/>
<rect x="324.2" y="511.4" width="6.6" height="1.6" fill="#e6d8ea"/>
<rect x="292.7" y="514.2" width="6.6" height="1.6" fill="#e6d8ea"/>
<rect x="324.2" y="514.2" width="6.6" height="1.6" fill="#e6d8ea"/>
<rect x="292.7" y="517.0" width="6.6" height="1.6" fill="#e6d8ea"/>
<rect x="324.2" y="517.0" width="6.6" height="1.6" fill="#e6d8ea"/>
<rect x="292.7" y="519.9" width="6.6" height="1.6" fill="#e6d8ea"/>
<rect x="324.2" y="519.9" width="6.6" height="1.6" fill="#e6d8ea"/>
<rect x="292.7" y="522.7" width="6.6" height="1.6" fill="#e6d8ea"/>
<rect x="324.2" y="522.7" width="6.6" height="1.6" fill="#e6d8ea"/>
<rect x="292.7" y="525.5" width="6.6" height="1.6" fill="#e6d8ea"/>
<rect x="324.2" y="525.5" width="6.6" height="1.6" fill="#e6d8ea"/>
<rect x="299.1" y="481.9" width="25.3" height="45.4" fill="#66676a" stroke="#55565a" stroke-width="0.8"/>
<circle cx="301.8" cy="484.5" r="1.5" fill="#f4f0e0"/>
<text x="338.3" y="524.0" font-size="5.376" fill="#dfe4ff" text-anchor="start" font-weight="normal" font-family="Liberation Sans" transform="rotate(-90 338.3 524.0)" textLength="35" lengthAdjust="spacingAndGlyphs">TPA3116D2</text>
<circle cx="293" cy="409" r="10.5" fill="none" stroke="#9fb0ff" stroke-width="1.3"/>
<circle cx="293.0" cy="409.0" r="5.6" fill="#d8b8e0"/>
<circle cx="293.0" cy="409.0" r="2.5" fill="#9a6aa8"/>
<text x="272.0" y="412.0" font-size="5.040000000000001" fill="#dfe4ff" text-anchor="start" font-weight="normal" font-family="Liberation Sans">+U</text>
<text x="287.5" y="438.0" font-size="4.704000000000001" fill="#dfe4ff" text-anchor="start" font-weight="normal" font-family="Liberation Sans" transform="rotate(-90 287.5 438.0)">FAULT</text>
<circle cx="274.0" cy="443.4" r="3.8" fill="#d8b8e0"/>
<circle cx="274.0" cy="443.4" r="1.7" fill="#9a6aa8"/>
<circle cx="283.0" cy="443.4" r="3.8" fill="#d8b8e0"/>
<circle cx="283.0" cy="443.4" r="1.7" fill="#9a6aa8"/>
<circle cx="274.0" cy="455.0" r="3.8" fill="#d8b8e0"/>
<circle cx="274.0" cy="455.0" r="1.7" fill="#9a6aa8"/>
<circle cx="283.0" cy="455.0" r="3.8" fill="#d8b8e0"/>
<circle cx="283.0" cy="455.0" r="1.7" fill="#9a6aa8"/>
<text x="261.5" y="446.5" font-size="4.48" fill="#dfe4ff" text-anchor="start" font-weight="normal" font-family="Liberation Sans">+R</text>
<text x="261.5" y="457.5" font-size="4.48" fill="#dfe4ff" text-anchor="start" font-weight="normal" font-family="Liberation Sans">-R</text>
<rect x="319.5" y="440.4" width="15" height="6" rx="1.2" fill="#f2f2f6"/>
<text x="323.0" y="452.0" font-size="5.040000000000001" fill="#dfe4ff" text-anchor="start" font-weight="normal" font-family="Liberation Sans">C1</text>
<rect x="301.8" y="454.5" width="4.5" height="9" rx="1.2" fill="#f2f2f6"/>
<rect x="301.8" y="457.4" width="4.5" height="3.2" fill="#111"/>
<polygon points="309.4,463.5 309.4,456.5 311.6,454.5 313.9,456.5 313.9,463.5" fill="#f2f2f6"/>
<circle cx="286.7" cy="456" r="1.8" fill="#eee"/><circle cx="296" cy="462" r="1.8" fill="#eee"/>
<text x="304.0" y="472.0" font-size="4.48" fill="#dfe4ff" text-anchor="start" font-weight="normal" font-family="Liberation Sans" transform="rotate(-90 304.0 472.0)">R13</text>
<text x="313.0" y="470.0" font-size="4.48" fill="#dfe4ff" text-anchor="start" font-weight="normal" font-family="Liberation Sans" transform="rotate(-90 313.0 470.0)">C2</text>
<text x="308.0" y="434.0" font-size="5.040000000000001" fill="#dfe4ff" text-anchor="start" font-weight="normal" font-family="Liberation Sans" transform="rotate(-90 308.0 434.0)">C5</text>
<text x="350.0" y="449.0" font-size="5.6000000000000005" fill="#dfe4ff" text-anchor="start" font-weight="normal" font-family="Liberation Sans" transform="rotate(-90 350.0 449.0)">E</text>
<rect x="273.7" y="497.0" width="11" height="4.2" rx="1.2" fill="#f2f2f6"/>
<rect x="277.2" y="497.0" width="4.0" height="4.2" fill="#111"/>
<rect x="273.7" y="505.0" width="11" height="4.2" rx="1.2" fill="#f2f2f6"/>
<rect x="277.2" y="505.0" width="4.0" height="4.2" fill="#111"/>
<text x="275.4" y="515.0" font-size="5.040000000000001" fill="#dfe4ff" text-anchor="start" font-weight="normal" font-family="Liberation Sans">R8</text>
<polygon points="274.6,523.5 274.6,520.5 276.6,518.5 278.6,520.5 278.6,523.5" fill="#f2f2f6"/>
<polygon points="282.6,523.5 282.6,520.5 284.6,518.5 286.6,520.5 286.6,523.5" fill="#f2f2f6"/>
<text x="268.0" y="529.0" font-size="4.704000000000001" fill="#dfe4ff" text-anchor="start" font-weight="normal" font-family="Liberation Sans" transform="rotate(-90 268.0 529.0)">C20</text>
<text x="274.0" y="529.0" font-size="4.704000000000001" fill="#dfe4ff" text-anchor="start" font-weight="normal" font-family="Liberation Sans" transform="rotate(-90 274.0 529.0)">C21</text>
<circle cx="273.0" cy="553.0" r="3.9" fill="#d8b8e0"/>
<circle cx="273.0" cy="553.0" r="1.8" fill="#9a6aa8"/>
<circle cx="273.0" cy="564.2" r="3.9" fill="#d8b8e0"/>
<circle cx="273.0" cy="564.2" r="1.8" fill="#9a6aa8"/>
<circle cx="284.2" cy="564.2" r="3.9" fill="#d8b8e0"/>
<circle cx="284.2" cy="564.2" r="1.8" fill="#9a6aa8"/>
<circle cx="295.3" cy="564.2" r="3.9" fill="#d8b8e0"/>
<circle cx="295.3" cy="564.2" r="1.8" fill="#9a6aa8"/>
<text x="263.0" y="556.0" font-size="5.040000000000001" fill="#dfe4ff" text-anchor="start" font-weight="normal" font-family="Liberation Sans">+L</text>
<text x="263.0" y="567.0" font-size="5.040000000000001" fill="#dfe4ff" text-anchor="start" font-weight="normal" font-family="Liberation Sans">-L</text>
<text x="287.0" y="586.0" font-size="5.376" fill="#dfe4ff" text-anchor="start" font-weight="normal" font-family="Liberation Sans" transform="rotate(-90 287.0 586.0)">MUTE</text>
<text x="298.0" y="586.0" font-size="5.376" fill="#dfe4ff" text-anchor="start" font-weight="normal" font-family="Liberation Sans" transform="rotate(-90 298.0 586.0)">SYNC</text>
<circle cx="292.5" cy="599" r="10.5" fill="none" stroke="#9fb0ff" stroke-width="1.3"/>
<circle cx="292.5" cy="599.0" r="5.6" fill="#d8b8e0"/>
<circle cx="292.5" cy="599.0" r="2.5" fill="#9a6aa8"/>
<text x="268.0" y="601.0" font-size="5.376" fill="#dfe4ff" text-anchor="start" font-weight="normal" font-family="Liberation Sans">GND</text>
<rect x="307.0" y="538.5" width="4" height="7" rx="1.2" fill="#f2f2f6"/>
<rect x="307.0" y="540.7" width="4" height="2.5" fill="#111"/>
<rect x="314.7" y="538.5" width="4" height="7" rx="1.2" fill="#f2f2f6"/>
<rect x="314.7" y="540.7" width="4" height="2.5" fill="#111"/>
<polygon points="322.2,546.5 322.2,539.5 324.5,537.5 326.8,539.5 326.8,546.5" fill="#f2f2f6"/>
<text x="332.0" y="548.0" font-size="5.040000000000001" fill="#dfe4ff" text-anchor="start" font-weight="normal" font-family="Liberation Sans" transform="rotate(-90 332.0 548.0)">C28</text>
<rect x="319.0" y="560.8" width="16.6" height="6.9" rx="1.2" fill="#f2f2f6"/>
<text x="322.7" y="557.0" font-size="5.376" fill="#dfe4ff" text-anchor="start" font-weight="normal" font-family="Liberation Sans">C25</text>
<text x="308.0" y="560.0" font-size="4.48" fill="#dfe4ff" text-anchor="start" font-weight="normal" font-family="Liberation Sans" transform="rotate(-90 308.0 560.0)">R17</text>
<text x="313.0" y="560.0" font-size="4.48" fill="#dfe4ff" text-anchor="start" font-weight="normal" font-family="Liberation Sans" transform="rotate(-90 313.0 560.0)">R16</text>
<text x="310.0" y="579.0" font-size="5.376" fill="#dfe4ff" text-anchor="start" font-weight="normal" font-family="Liberation Sans" transform="rotate(-45 310.0 579.0)">C27</text>
<rect x="341.8" y="540.8" width="4.5" height="9" rx="1.2" fill="#f2f2f6"/>
<text x="340.0" y="540.0" font-size="5.040000000000001" fill="#dfe4ff" text-anchor="start" font-weight="normal" font-family="Liberation Sans" transform="rotate(-90 340.0 540.0)">C22</text>
<text x="350.0" y="564.0" font-size="5.376" fill="#dfe4ff" text-anchor="start" font-weight="normal" font-family="Liberation Sans" transform="rotate(-90 350.0 564.0)">E4</text>
<rect x="342.8" y="459.5" width="4.5" height="9" rx="1.2" fill="#f2f2f6"/>
<text x="339.0" y="470.0" font-size="5.040000000000001" fill="#dfe4ff" text-anchor="start" font-weight="normal" font-family="Liberation Sans" transform="rotate(-90 339.0 470.0)">C6</text>
<rect x="374.8" y="457.5" width="4.5" height="9" rx="1.2" fill="#f2f2f6"/>
<rect x="374.8" y="460.4" width="4.5" height="3.2" fill="#111"/>
<polygon points="384.8,466.5 384.8,459.5 387.0,457.5 389.2,459.5 389.2,466.5" fill="#f2f2f6"/>
<rect x="395.8" y="457.5" width="4.5" height="9" rx="1.2" fill="#f2f2f6"/>
<rect x="395.8" y="460.4" width="4.5" height="3.2" fill="#111"/>
<text x="352.0" y="470.0" font-size="4.48" fill="#dfe4ff" text-anchor="start" font-weight="normal" font-family="Liberation Sans" transform="rotate(-90 352.0 470.0)">R6</text>
<text x="360.0" y="470.0" font-size="4.48" fill="#dfe4ff" text-anchor="start" font-weight="normal" font-family="Liberation Sans" transform="rotate(-90 360.0 470.0)">C10</text>
<text x="368.0" y="470.0" font-size="4.48" fill="#dfe4ff" text-anchor="start" font-weight="normal" font-family="Liberation Sans" transform="rotate(-90 368.0 470.0)">R4</text>
<rect x="355.8" y="473.5" width="4.5" height="9" rx="1.2" fill="#f2f2f6"/>
<text x="352.0" y="486.0" font-size="4.48" fill="#dfe4ff" text-anchor="start" font-weight="normal" font-family="Liberation Sans" transform="rotate(-90 352.0 486.0)">C11</text>
<rect x="384.8" y="479.5" width="4.5" height="9" rx="1.2" fill="#f2f2f6"/>
<rect x="396.0" y="477.0" width="6" height="14" rx="1.5" fill="#e8e0f0"/>
<rect x="396.5" y="479.5" width="5" height="9" fill="#7a4aa0"/>
<text x="381.0" y="490.0" font-size="4.48" fill="#dfe4ff" text-anchor="start" font-weight="normal" font-family="Liberation Sans" transform="rotate(-90 381.0 490.0)">C12</text>
<text x="410.0" y="490.0" font-size="4.48" fill="#dfe4ff" text-anchor="start" font-weight="normal" font-family="Liberation Sans" transform="rotate(-90 410.0 490.0)">C13</text>
<rect x="355.8" y="522.5" width="4.5" height="9" rx="1.2" fill="#f2f2f6"/>
<text x="352.0" y="533.0" font-size="5.040000000000001" fill="#dfe4ff" text-anchor="start" font-weight="normal" font-family="Liberation Sans" transform="rotate(-90 352.0 533.0)">C16</text>
<rect x="384.8" y="517.5" width="4.5" height="9" rx="1.2" fill="#f2f2f6"/>
<rect x="396.0" y="515.0" width="6" height="14" rx="1.5" fill="#e8e0f0"/>
<rect x="396.5" y="517.5" width="5" height="9" fill="#7a4aa0"/>
<text x="381.0" y="530.0" font-size="4.48" fill="#dfe4ff" text-anchor="start" font-weight="normal" font-family="Liberation Sans" transform="rotate(-90 381.0 530.0)">C17</text>
<text x="410.0" y="528.0" font-size="4.48" fill="#dfe4ff" text-anchor="start" font-weight="normal" font-family="Liberation Sans" transform="rotate(-90 410.0 528.0)">C18</text>
<rect x="342.8" y="540.5" width="4.5" height="9" rx="1.2" fill="#f2f2f6"/>
<text x="338.0" y="552.0" font-size="4.48" fill="#dfe4ff" text-anchor="start" font-weight="normal" font-family="Liberation Sans" transform="rotate(-90 338.0 552.0)">C22</text>
<rect x="374.8" y="541.5" width="4.5" height="9" rx="1.2" fill="#f2f2f6"/>
<rect x="374.8" y="544.4" width="4.5" height="3.2" fill="#111"/>
<polygon points="384.8,550.5 384.8,543.5 387.0,541.5 389.2,543.5 389.2,550.5" fill="#f2f2f6"/>
<rect x="395.8" y="541.5" width="4.5" height="9" rx="1.2" fill="#f2f2f6"/>
<rect x="395.8" y="544.4" width="4.5" height="3.2" fill="#111"/>
<text x="352.0" y="552.0" font-size="4.48" fill="#dfe4ff" text-anchor="start" font-weight="normal" font-family="Liberation Sans" transform="rotate(-90 352.0 552.0)">R9</text>
<text x="360.0" y="552.0" font-size="4.48" fill="#dfe4ff" text-anchor="start" font-weight="normal" font-family="Liberation Sans" transform="rotate(-90 360.0 552.0)">C14</text>
<text x="368.0" y="552.0" font-size="4.48" fill="#dfe4ff" text-anchor="start" font-weight="normal" font-family="Liberation Sans" transform="rotate(-90 368.0 552.0)">R7</text>
<text x="360.0" y="432.0" font-size="5.6000000000000005" fill="#dfe4ff" text-anchor="start" font-weight="normal" font-family="Liberation Sans" transform="rotate(-90 360.0 432.0)">E</text>
<text x="360.0" y="574.0" font-size="5.6000000000000005" fill="#dfe4ff" text-anchor="start" font-weight="normal" font-family="Liberation Sans" transform="rotate(-90 360.0 574.0)">E</text>
<text x="406.0" y="466.0" font-size="5.040000000000001" fill="#dfe4ff" text-anchor="start" font-weight="normal" font-family="Liberation Sans" transform="rotate(90 406.0 466.0)">L3</text>
<text x="406.0" y="528.0" font-size="5.040000000000001" fill="#dfe4ff" text-anchor="start" font-weight="normal" font-family="Liberation Sans" transform="rotate(90 406.0 528.0)">L2</text>
<rect x="416.8" y="408.0" width="4.5" height="10" rx="1.2" fill="#f2f2f6"/>
<rect x="416.8" y="411.2" width="4.5" height="3.6" fill="#111"/>
<polygon points="427.8,418.0 427.8,410.0 430.0,408.0 432.2,410.0 432.2,418.0" fill="#f2f2f6"/>
<rect x="438.4" y="408.0" width="4.5" height="10" rx="1.2" fill="#f2f2f6"/>
<rect x="438.4" y="411.2" width="4.5" height="3.6" fill="#111"/>
<text x="421.0" y="405.0" font-size="5.040000000000001" fill="#dfe4ff" text-anchor="start" font-weight="normal" font-family="Liberation Sans" transform="rotate(-90 421.0 405.0)">R3</text>
<text x="432.0" y="405.0" font-size="5.040000000000001" fill="#dfe4ff" text-anchor="start" font-weight="normal" font-family="Liberation Sans" transform="rotate(-90 432.0 405.0)">C4</text>
<text x="442.6" y="405.0" font-size="5.040000000000001" fill="#dfe4ff" text-anchor="start" font-weight="normal" font-family="Liberation Sans" transform="rotate(-90 442.6 405.0)">R2</text>
<rect x="416.8" y="429.0" width="4.5" height="10" rx="1.2" fill="#f2f2f6"/>
<text x="413.0" y="440.0" font-size="5.040000000000001" fill="#dfe4ff" text-anchor="start" font-weight="normal" font-family="Liberation Sans" transform="rotate(-90 413.0 440.0)">C7</text>
<rect x="437.6" y="425.0" width="6" height="14" rx="1.5" fill="#e8e0f0"/>
<rect x="438.1" y="427.5" width="5" height="9" fill="#7a4aa0"/>
<text x="434.5" y="438.0" font-size="5.040000000000001" fill="#dfe4ff" text-anchor="start" font-weight="normal" font-family="Liberation Sans" transform="rotate(-90 434.5 438.0)">C8</text>
<text x="463.5" y="420.0" font-size="5.040000000000001" fill="#dfe4ff" text-anchor="start" font-weight="normal" font-family="Liberation Sans">R+</text>
<text x="456.5" y="431.0" font-size="4.256" fill="#dfe4ff" text-anchor="start" font-weight="normal" font-family="Liberation Sans" textLength="14" lengthAdjust="spacingAndGlyphs">PBTL</text>
<rect x="417.8" y="570.0" width="4.5" height="10" rx="1.2" fill="#f2f2f6"/>
<text x="414.0" y="581.0" font-size="5.040000000000001" fill="#dfe4ff" text-anchor="start" font-weight="normal" font-family="Liberation Sans" transform="rotate(-90 414.0 581.0)">C23</text>
<rect x="437.4" y="570.0" width="6" height="14" rx="1.5" fill="#e8e0f0"/>
<rect x="437.9" y="572.5" width="5" height="9" fill="#7a4aa0"/>
<text x="434.0" y="583.0" font-size="5.040000000000001" fill="#dfe4ff" text-anchor="start" font-weight="normal" font-family="Liberation Sans" transform="rotate(-90 434.0 583.0)">C24</text>
<rect x="416.8" y="591.5" width="4.5" height="9" rx="1.2" fill="#f2f2f6"/>
<rect x="416.8" y="594.4" width="4.5" height="3.2" fill="#111"/>
<polygon points="426.8,600.5 426.8,593.5 429.0,591.5 431.2,593.5 431.2,600.5" fill="#f2f2f6"/>
<rect x="438.8" y="591.5" width="4.5" height="9" rx="1.2" fill="#f2f2f6"/>
<rect x="438.8" y="594.4" width="4.5" height="3.2" fill="#111"/>
<text x="414.0" y="604.0" font-size="4.48" fill="#dfe4ff" text-anchor="start" font-weight="normal" font-family="Liberation Sans" transform="rotate(-90 414.0 604.0)">R11</text>
<text x="447.0" y="604.0" font-size="4.48" fill="#dfe4ff" text-anchor="start" font-weight="normal" font-family="Liberation Sans" transform="rotate(-90 447.0 604.0)">R10</text>
<text x="426.0" y="607.5" font-size="5.376" fill="#dfe4ff" text-anchor="start" font-weight="normal" font-family="Liberation Sans">C19</text>
<text x="458.6" y="581.5" font-size="4.704000000000001" fill="#dfe4ff" text-anchor="start" font-weight="normal" font-family="Liberation Sans">PBTL</text>
<text x="462.0" y="593.0" font-size="5.376" fill="#dfe4ff" text-anchor="start" font-weight="normal" font-family="Liberation Sans">L-</text>
<circle cx="258" cy="396.3" r="14.7" fill="#1428b0" clip-path="url(#board)"/>
<circle cx="258" cy="396.3" r="13.5" fill="url(#hg)" stroke="#8c5c94" stroke-width="1.1"/>
<circle cx="474.3" cy="396.3" r="14.7" fill="#1428b0" clip-path="url(#board)"/>
<circle cx="474.3" cy="396.3" r="13.5" fill="url(#hg)" stroke="#8c5c94" stroke-width="1.1"/>
<circle cx="257" cy="504" r="14.7" fill="#1428b0" clip-path="url(#board)"/>
<circle cx="257" cy="504" r="13.5" fill="url(#hg)" stroke="#8c5c94" stroke-width="1.1"/>
<circle cx="474.3" cy="503.7" r="14.7" fill="#1428b0" clip-path="url(#board)"/>
<circle cx="474.3" cy="503.7" r="13.5" fill="url(#hg)" stroke="#8c5c94" stroke-width="1.1"/>
<circle cx="257" cy="612.7" r="14.7" fill="#1428b0" clip-path="url(#board)"/>
<circle cx="257" cy="612.7" r="13.5" fill="url(#hg)" stroke="#8c5c94" stroke-width="1.1"/>
<circle cx="473.6" cy="612.6" r="14.7" fill="#1428b0" clip-path="url(#board)"/>
<circle cx="473.6" cy="612.6" r="13.5" fill="url(#hg)" stroke="#8c5c94" stroke-width="1.1"/>
<circle cx="366" cy="504.3" r="15.799999999999999" fill="#1428b0" clip-path="url(#board)"/>
<circle cx="366" cy="504.3" r="14.6" fill="url(#hg)" stroke="#8c5c94" stroke-width="1.1"/>
<circle cx="330.5" cy="415.5" r="18" fill="#f6f4f4" stroke="#111" stroke-width="3"/>
<line x1="317" y1="427.5" x2="327" y2="422.4" stroke="#111" stroke-width="2.5"/>
<rect x="309.5" y="415.6" width="5" height="5" fill="#f6f4f4"/>
<circle cx="330.5" cy="592" r="18" fill="#f6f4f4" stroke="#111" stroke-width="3"/>
<line x1="320" y1="577" x2="328.8" y2="585.6" stroke="#111" stroke-width="2.5"/>
<rect x="310" y="589" width="5" height="4" fill="#f6f4f4"/>
<line x1="292" y1="461" x2="318" y2="430" stroke="#111" stroke-width="2"/>
<line x1="300.5" y1="558" x2="318.5" y2="575" stroke="#111" stroke-width="2"/>
<circle cx="280.5" cy="476" r="19" fill="none" stroke="#151515" stroke-width="1.4"/>
<polygon points="266.0,487.2 266.0,481.8 268.0,479.8 270.0,481.8 270.0,487.2" fill="#f2f2f6"/>
<text x="278.5" y="489.0" font-size="4.48" fill="#dfe4ff" text-anchor="start" font-weight="normal" font-family="Liberation Sans" transform="rotate(-90 278.5 489.0)">GND</text>
<rect x="280.4" y="476.5" width="4.2" height="13" rx="2" fill="#f4f4f4"/>
<rect x="281.4" y="478.5" width="2.2" height="9" rx="1" fill="#3cb030"/>
<text x="276.0" y="497.0" font-size="4.48" fill="#dfe4ff" text-anchor="start" font-weight="normal" font-family="Liberation Sans" transform="rotate(-90 276.0 497.0)">R5</text>
<text x="282.0" y="471.0" font-size="4.48" fill="#dfe4ff" text-anchor="start" font-weight="normal" font-family="Liberation Sans" transform="rotate(-90 282.0 471.0)">C9</text>
<text x="290.0" y="471.0" font-size="4.48" fill="#dfe4ff" text-anchor="start" font-weight="normal" font-family="Liberation Sans" transform="rotate(-90 290.0 471.0)">R14</text>
<circle cx="287" cy="543.6" r="20" fill="none" stroke="#151515" stroke-width="1.4"/>
<text x="279.0" y="548.0" font-size="5.040000000000001" fill="#dfe4ff" text-anchor="start" font-weight="normal" font-family="Liberation Sans" transform="rotate(-90 279.0 548.0)">GND</text>
<circle cx="284" cy="536.7" r="2.2" fill="#eee"/><circle cx="284" cy="547" r="2.2" fill="#eee"/>
<rect x="291.4" y="535.0" width="4.5" height="13" rx="2" fill="#f4f4f4"/>
<rect x="292.4" y="537.0" width="2.5" height="9" rx="1" fill="#3cb030"/>
<rect x="298.2" y="535.0" width="4.5" height="13" rx="2" fill="#f4f4f4"/>
<rect x="299.2" y="537.0" width="2.5" height="9" rx="1" fill="#3cb030"/>
<text x="291.0" y="557.0" font-size="4.704000000000001" fill="#dfe4ff" text-anchor="start" font-weight="normal" font-family="Liberation Sans" textLength="11" lengthAdjust="spacingAndGlyphs">PBTL</text>
<circle cx="350.8" cy="393.3" r="35.7" fill="#2040f0" stroke="#151515" stroke-width="2"/>
<circle cx="340.3" cy="365.4" r="5.8" fill="#dcb8e6"/><circle cx="340.3" cy="365.4" r="2.6" fill="#8a5a9a"/>
<rect x="357.8" y="363.0" width="5.7" height="15" rx="1.5" fill="#e8e0f0"/>
<rect x="358.2" y="365.5" width="4.7" height="10" fill="#7a4aa0"/>
<rect x="369.8" y="366.3" width="5.7" height="12" rx="1.5" fill="#e8e0f0"/>
<rect x="370.2" y="368.8" width="4.7" height="7" fill="#7a4aa0"/>
<text x="384.0" y="392.0" font-size="6.720000000000001" fill="#dfe4ff" text-anchor="start" font-weight="normal" font-family="Liberation Sans" transform="rotate(-90 384.0 392.0)">R4</text>
<text x="363.0" y="391.0" font-size="7.5" fill="#dfe4ff" text-anchor="start" font-weight="normal" font-family="Liberation Sans" transform="rotate(-90 363.0 391.0)">C9</text>
<text x="376.0" y="391.0" font-size="7.5" fill="#dfe4ff" text-anchor="start" font-weight="normal" font-family="Liberation Sans" transform="rotate(-90 376.0 391.0)">C5</text>
<polygon points="330,412 330,400 333,397.5 336,400 336,412" fill="#ecdcec"/>
<text x="326.0" y="414.0" font-size="8" fill="#dfe4ff" text-anchor="start" font-weight="normal" font-family="Liberation Sans" transform="rotate(-90 326.0 414.0)">C15</text>
<text x="347.6" y="414.0" font-size="8" fill="#dfe4ff" text-anchor="start" font-weight="normal" font-family="Liberation Sans" transform="rotate(-90 347.6 414.0)">GND</text>
<rect x="350.0" y="395.0" width="6" height="20" rx="2" fill="#f4f4f4"/>
<rect x="351.0" y="397.0" width="4" height="16" rx="1" fill="#3cb030"/>
<text x="337.0" y="422.5" font-size="8" fill="#dfe4ff" text-anchor="start" font-weight="normal" font-family="Liberation Sans">R5</text>
<g clip-path="url(#mag1)"><path d="M 366 430 L 366 412 Q 366 403 375 402 L 392 402 L 392 430 Z" fill="#3a3a3c"/>
<g stroke="#e8e8e8" stroke-width="1.4"><line x1="370" y1="406" x2="370" y2="420"/><line x1="373.5" y1="404" x2="373.5" y2="420"/><line x1="377" y1="404" x2="377" y2="420"/></g></g>
<circle cx="357.5" cy="612" r="37" fill="#2040f0" stroke="#151515" stroke-width="2"/>
<text x="344.0" y="617.0" font-size="7.5" fill="#dfe4ff" text-anchor="start" font-weight="normal" font-family="Liberation Sans" transform="rotate(-90 344.0 617.0)">GND</text>
<polygon points="347.1,604.0 347.1,598.0 349.6,596.0 352.1,598.0 352.1,604.0" fill="#f2f2f6"/>
<circle cx="349.6" cy="615" r="3.5" fill="#f2f2f6"/>
<rect x="360.0" y="596.5" width="6" height="22" rx="2" fill="#f4f4f4"/>
<rect x="361.0" y="598.5" width="4" height="18" rx="1" fill="#3cb030"/>
<rect x="371.5" y="596.5" width="6" height="22" rx="2" fill="#f4f4f4"/>
<rect x="372.5" y="598.5" width="4" height="18" rx="1" fill="#3cb030"/>
<rect x="383.5" y="599.5" width="5" height="16" rx="1.2" fill="#f2f2f6"/>
<rect x="383.5" y="604.6" width="5" height="5.8" fill="#111"/>
<text x="358.7" y="630.7" font-size="9" fill="#dfe4ff" text-anchor="start" font-weight="normal" font-family="Liberation Sans" textLength="20.7" lengthAdjust="spacingAndGlyphs">PBTL</text>
<text x="391.0" y="634.0" font-size="7.5" fill="#dfe4ff" text-anchor="start" font-weight="normal" font-family="Liberation Sans" transform="rotate(-90 391.0 634.0)">R12</text>
<circle cx="333.2" cy="622.8" r="6.5" fill="#d8b0e2"/><circle cx="333.2" cy="622.8" r="2.8" fill="#8a5a9a"/>
<circle cx="335" cy="637.4" r="6.5" fill="#d8b0e2"/><circle cx="335" cy="637.4" r="2.8" fill="#8a5a9a"/>
<circle cx="350.2" cy="639.2" r="6.5" fill="#d8b0e2"/><circle cx="350.2" cy="639.2" r="2.8" fill="#8a5a9a"/>
<circle cx="366" cy="639.2" r="6.5" fill="#d8b0e2"/><circle cx="366" cy="639.2" r="2.8" fill="#8a5a9a"/>
<circle cx="337.5" cy="584.6" r="3" fill="#eee"/><circle cx="349.6" cy="584.6" r="3" fill="#eee"/>
<rect x="363.5" y="576.0" width="5" height="8" rx="1.2" fill="#f2f2f6"/>
<rect x="363.5" y="578.6" width="5" height="2.9" fill="#111"/>
<text x="276.0" y="357.0" font-size="10" fill="#3d853d" text-anchor="start" font-weight="normal" font-family="Liberation Sans" textLength="54" lengthAdjust="spacingAndGlyphs">Перемычка</text>
<polyline points="276.0,359.6 332.6,359.6 350.0,396.0" fill="none" stroke="#111" stroke-width="1.3"/>
<text x="288.4" y="658.0" font-size="10" fill="#3d853d" text-anchor="start" font-weight="normal" font-family="Liberation Sans" textLength="54.2" lengthAdjust="spacingAndGlyphs">Перемычки</text>
<polyline points="285.6,660.3 353.5,660.3 366.0,621.0" fill="none" stroke="#111" stroke-width="1.3"/>
<text x="221.0" y="454.0" font-size="11" fill="#3d853d" text-anchor="start" font-weight="normal" font-family="Liberation Sans" textLength="25" lengthAdjust="spacingAndGlyphs" stroke="#3d853d" stroke-width="0.2">Вход</text>
<g fill="none" stroke="#2eaa2a" stroke-width="3.4" stroke-linejoin="round">
<path d="M 457.5 418 A 8 11.75 0 0 0 457.5 441.5 L 520 441.5 L 520 481 L 565 481"/>
<path d="M 565 508 L 521 508 L 521 568.5 L 457.5 568.5 A 7.5 11.75 0 0 0 457.5 592"/>
</g>
<circle cx="458" cy="418" r="2.4" fill="none" stroke="#eee" stroke-width="1.5"/>
<circle cx="458" cy="592" r="2.4" fill="none" stroke="#eee" stroke-width="1.5"/>
<text x="482.3" y="431.7" font-size="10" fill="#3d853d" text-anchor="start" font-weight="normal" font-family="Liberation Sans" textLength="53.7" lengthAdjust="spacingAndGlyphs">Перемычка</text>
<line x1="456.0" y1="427.0" x2="481.0" y2="427.0" stroke="#111" stroke-width="1.2"/>
<text x="478.9" y="589.7" font-size="10" fill="#3d853d" text-anchor="start" font-weight="normal" font-family="Liberation Sans" textLength="53.7" lengthAdjust="spacingAndGlyphs">Перемычка</text>
<line x1="456.0" y1="586.0" x2="478.0" y2="586.0" stroke="#111" stroke-width="1.2"/>
<rect x="565" y="469" width="14.6" height="48.6" fill="#232323"/>
<polygon points="586.4,469 617.6,447 617.6,540 586.4,518" fill="#232323"/>
<g fill="none" stroke="#232323" stroke-width="4.5" stroke-linecap="round">
<path d="M 626 481 A 14.7 14.7 0 0 1 626 506"/>
<path d="M 640 467 A 33.5 33.5 0 0 1 640 520"/>
<path d="M 654 453 A 52.7 52.7 0 0 1 654 534"/>
</g>
<text x="581.0" y="559.5" font-size="14" fill="#1e1e1e" text-anchor="start" font-weight="normal" font-family="Liberation Sans" textLength="50" lengthAdjust="spacingAndGlyphs">100 Вт.</text>
</svg></body></html>
